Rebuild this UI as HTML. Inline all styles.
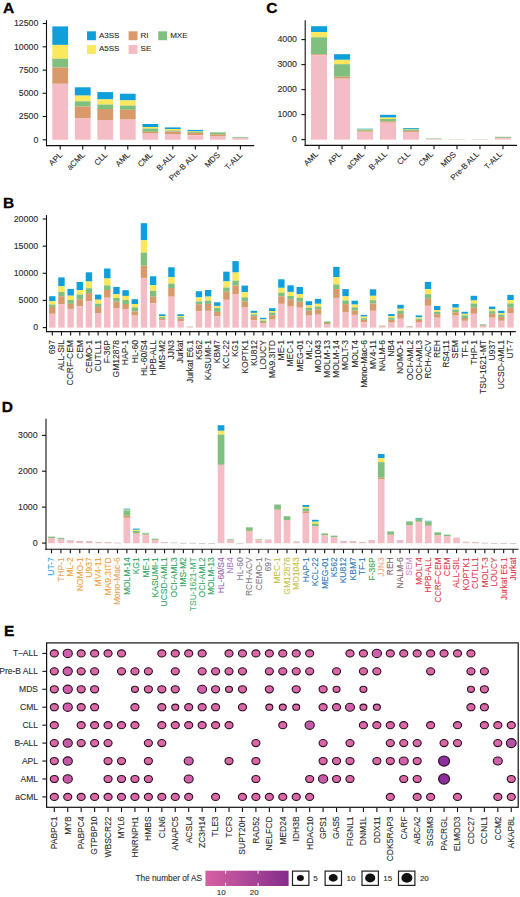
<!DOCTYPE html>
<html><head><meta charset="utf-8"><title>Figure</title>
<style>
html,body{margin:0;padding:0;background:#fff;}
body{width:520px;height:897px;overflow:hidden;}
svg{display:block;font-family:"Liberation Sans",sans-serif;}
</style></head>
<body>
<svg width="520" height="897" viewBox="0 0 520 897">
<rect width="520" height="897" fill="#fff"/>
<text x="3" y="13.1" font-size="15.5" font-weight="bold" fill="#000" stroke="#000" stroke-width="0.3">A</text>
<rect x="52.3" y="26.4" width="15.8" height="18.52" fill="#0f9fdb"/>
<rect x="52.3" y="44.9" width="15.8" height="13.82" fill="#fbe85c"/>
<rect x="52.3" y="58.7" width="15.8" height="8.82" fill="#80c07e"/>
<rect x="52.3" y="67.5" width="15.8" height="16.32" fill="#d89a6a"/>
<rect x="52.3" y="83.8" width="15.8" height="55.92" fill="#f4bcc4"/>
<line x1="60.2" y1="145.6" x2="60.2" y2="149.4" stroke="#111" stroke-width="1.1"/>
<text transform="translate(62.8,155.5) rotate(-45)" font-size="8" text-anchor="end" fill="#2a2a2a" stroke="#2a2a2a" stroke-width="0.1">APL</text>
<rect x="74.82" y="87.3" width="15.8" height="8.32" fill="#0f9fdb"/>
<rect x="74.82" y="95.6" width="15.8" height="5.72" fill="#fbe85c"/>
<rect x="74.82" y="101.3" width="15.8" height="5.22" fill="#80c07e"/>
<rect x="74.82" y="106.5" width="15.8" height="11.62" fill="#d89a6a"/>
<rect x="74.82" y="118.1" width="15.8" height="21.62" fill="#f4bcc4"/>
<line x1="82.72" y1="145.6" x2="82.72" y2="149.4" stroke="#111" stroke-width="1.1"/>
<text transform="translate(85.32,155.5) rotate(-45)" font-size="8" text-anchor="end" fill="#2a2a2a" stroke="#2a2a2a" stroke-width="0.1">aCML</text>
<rect x="97.35" y="92.1" width="15.8" height="7.32" fill="#0f9fdb"/>
<rect x="97.35" y="99.4" width="15.8" height="5.22" fill="#fbe85c"/>
<rect x="97.35" y="104.6" width="15.8" height="4.42" fill="#80c07e"/>
<rect x="97.35" y="109" width="15.8" height="11.02" fill="#d89a6a"/>
<rect x="97.35" y="120" width="15.8" height="19.72" fill="#f4bcc4"/>
<line x1="105.25" y1="145.6" x2="105.25" y2="149.4" stroke="#111" stroke-width="1.1"/>
<text transform="translate(107.85,155.5) rotate(-45)" font-size="8" text-anchor="end" fill="#2a2a2a" stroke="#2a2a2a" stroke-width="0.1">CLL</text>
<rect x="119.87" y="93.7" width="15.8" height="6.72" fill="#0f9fdb"/>
<rect x="119.87" y="100.4" width="15.8" height="5.22" fill="#fbe85c"/>
<rect x="119.87" y="105.6" width="15.8" height="4.22" fill="#80c07e"/>
<rect x="119.87" y="109.8" width="15.8" height="9.82" fill="#d89a6a"/>
<rect x="119.87" y="119.6" width="15.8" height="20.12" fill="#f4bcc4"/>
<line x1="127.77" y1="145.6" x2="127.77" y2="149.4" stroke="#111" stroke-width="1.1"/>
<text transform="translate(130.38,155.5) rotate(-45)" font-size="8" text-anchor="end" fill="#2a2a2a" stroke="#2a2a2a" stroke-width="0.1">AML</text>
<rect x="142.4" y="124" width="15.8" height="3.02" fill="#0f9fdb"/>
<rect x="142.4" y="127" width="15.8" height="1.62" fill="#fbe85c"/>
<rect x="142.4" y="128.6" width="15.8" height="3.22" fill="#80c07e"/>
<rect x="142.4" y="131.8" width="15.8" height="1.82" fill="#d89a6a"/>
<rect x="142.4" y="133.6" width="15.8" height="6.12" fill="#f4bcc4"/>
<line x1="150.3" y1="145.6" x2="150.3" y2="149.4" stroke="#111" stroke-width="1.1"/>
<text transform="translate(152.9,155.5) rotate(-45)" font-size="8" text-anchor="end" fill="#2a2a2a" stroke="#2a2a2a" stroke-width="0.1">CML</text>
<rect x="164.92" y="127.4" width="15.8" height="1.62" fill="#0f9fdb"/>
<rect x="164.92" y="129" width="15.8" height="1.52" fill="#fbe85c"/>
<rect x="164.92" y="130.5" width="15.8" height="1.02" fill="#80c07e"/>
<rect x="164.92" y="131.5" width="15.8" height="2.52" fill="#d89a6a"/>
<rect x="164.92" y="134" width="15.8" height="5.72" fill="#f4bcc4"/>
<line x1="172.82" y1="145.6" x2="172.82" y2="149.4" stroke="#111" stroke-width="1.1"/>
<text transform="translate(175.42,155.5) rotate(-45)" font-size="8" text-anchor="end" fill="#2a2a2a" stroke="#2a2a2a" stroke-width="0.1">B-ALL</text>
<rect x="187.45" y="129.9" width="15.8" height="1.12" fill="#0f9fdb"/>
<rect x="187.45" y="131" width="15.8" height="0.52" fill="#fbe85c"/>
<rect x="187.45" y="131.5" width="15.8" height="1.32" fill="#80c07e"/>
<rect x="187.45" y="132.8" width="15.8" height="2.42" fill="#d89a6a"/>
<rect x="187.45" y="135.2" width="15.8" height="4.52" fill="#f4bcc4"/>
<line x1="195.35" y1="145.6" x2="195.35" y2="149.4" stroke="#111" stroke-width="1.1"/>
<text transform="translate(197.95,155.5) rotate(-45)" font-size="8" text-anchor="end" fill="#2a2a2a" stroke="#2a2a2a" stroke-width="0.1">Pre-B ALL</text>
<rect x="209.97" y="132" width="15.8" height="0.42" fill="#0f9fdb"/>
<rect x="209.97" y="132.4" width="15.8" height="0.42" fill="#fbe85c"/>
<rect x="209.97" y="132.8" width="15.8" height="1.82" fill="#80c07e"/>
<rect x="209.97" y="134.6" width="15.8" height="1.92" fill="#d89a6a"/>
<rect x="209.97" y="136.5" width="15.8" height="3.22" fill="#f4bcc4"/>
<line x1="217.88" y1="145.6" x2="217.88" y2="149.4" stroke="#111" stroke-width="1.1"/>
<text transform="translate(220.47,155.5) rotate(-45)" font-size="8" text-anchor="end" fill="#2a2a2a" stroke="#2a2a2a" stroke-width="0.1">MDS</text>
<rect x="232.5" y="137" width="15.8" height="0.22" fill="#0f9fdb"/>
<rect x="232.5" y="137.2" width="15.8" height="0.22" fill="#fbe85c"/>
<rect x="232.5" y="137.4" width="15.8" height="0.62" fill="#80c07e"/>
<rect x="232.5" y="138" width="15.8" height="0.52" fill="#d89a6a"/>
<rect x="232.5" y="138.5" width="15.8" height="1.22" fill="#f4bcc4"/>
<line x1="240.4" y1="145.6" x2="240.4" y2="149.4" stroke="#111" stroke-width="1.1"/>
<text transform="translate(243,155.5) rotate(-45)" font-size="8" text-anchor="end" fill="#2a2a2a" stroke="#2a2a2a" stroke-width="0.1">T-ALL</text>
<line x1="46.5" y1="20.2" x2="46.5" y2="146.2" stroke="#111" stroke-width="1.1"/>
<line x1="45.95" y1="145.6" x2="254.2" y2="145.6" stroke="#111" stroke-width="1.1"/>
<line x1="42.7" y1="23.5" x2="46.5" y2="23.5" stroke="#111" stroke-width="1.1"/>
<text x="38.4" y="26.2" font-size="8.8" text-anchor="end" fill="#2a2a2a" stroke="#2a2a2a" stroke-width="0.1">12500</text>
<line x1="42.7" y1="46.8" x2="46.5" y2="46.8" stroke="#111" stroke-width="1.1"/>
<text x="38.4" y="49.5" font-size="8.8" text-anchor="end" fill="#2a2a2a" stroke="#2a2a2a" stroke-width="0.1">10000</text>
<line x1="42.7" y1="70.1" x2="46.5" y2="70.1" stroke="#111" stroke-width="1.1"/>
<text x="38.4" y="72.8" font-size="8.8" text-anchor="end" fill="#2a2a2a" stroke="#2a2a2a" stroke-width="0.1">7500</text>
<line x1="42.7" y1="93.3" x2="46.5" y2="93.3" stroke="#111" stroke-width="1.1"/>
<text x="38.4" y="96" font-size="8.8" text-anchor="end" fill="#2a2a2a" stroke="#2a2a2a" stroke-width="0.1">5000</text>
<line x1="42.7" y1="116.5" x2="46.5" y2="116.5" stroke="#111" stroke-width="1.1"/>
<text x="38.4" y="119.2" font-size="8.8" text-anchor="end" fill="#2a2a2a" stroke="#2a2a2a" stroke-width="0.1">2500</text>
<line x1="42.7" y1="139.8" x2="46.5" y2="139.8" stroke="#111" stroke-width="1.1"/>
<text x="38.4" y="142.5" font-size="8.8" text-anchor="end" fill="#2a2a2a" stroke="#2a2a2a" stroke-width="0.1">0</text>
<rect x="87" y="31.3" width="8.9" height="8.9" fill="#0f9fdb"/>
<text x="99" y="37.7" font-size="8" text-anchor="start" fill="#2a2a2a" stroke="#2a2a2a" stroke-width="0.1">A3SS</text>
<rect x="87" y="45" width="8.9" height="8.9" fill="#fbe85c"/>
<text x="99" y="51.4" font-size="8" text-anchor="start" fill="#2a2a2a" stroke="#2a2a2a" stroke-width="0.1">A5SS</text>
<rect x="128.6" y="31.3" width="8.9" height="8.9" fill="#d89a6a"/>
<text x="140.6" y="37.7" font-size="8" text-anchor="start" fill="#2a2a2a" stroke="#2a2a2a" stroke-width="0.1">RI</text>
<rect x="128.6" y="45" width="8.9" height="8.9" fill="#f4bcc4"/>
<text x="140.6" y="51.4" font-size="8" text-anchor="start" fill="#2a2a2a" stroke="#2a2a2a" stroke-width="0.1">SE</text>
<rect x="158.2" y="31.3" width="8.9" height="8.9" fill="#80c07e"/>
<text x="170.2" y="37.7" font-size="8" text-anchor="start" fill="#2a2a2a" stroke="#2a2a2a" stroke-width="0.1">MXE</text>
<text x="266.2" y="13.3" font-size="15.5" font-weight="bold" fill="#000" stroke="#000" stroke-width="0.3">C</text>
<rect x="311.05" y="26.2" width="16" height="5.92" fill="#0f9fdb"/>
<rect x="311.05" y="32.1" width="16" height="5.22" fill="#fbe85c"/>
<rect x="311.05" y="37.3" width="16" height="16.92" fill="#80c07e"/>
<rect x="311.05" y="54.2" width="16" height="1.02" fill="#d89a6a"/>
<rect x="311.05" y="55.2" width="16" height="84.42" fill="#f4bcc4"/>
<line x1="319.05" y1="145.4" x2="319.05" y2="149.2" stroke="#111" stroke-width="1.1"/>
<text transform="translate(318.65,154.9) rotate(-45)" font-size="8" text-anchor="end" fill="#2a2a2a" stroke="#2a2a2a" stroke-width="0.1">AML</text>
<rect x="334.04" y="54.2" width="16" height="5.62" fill="#0f9fdb"/>
<rect x="334.04" y="59.8" width="16" height="4.42" fill="#fbe85c"/>
<rect x="334.04" y="64.2" width="16" height="12.52" fill="#80c07e"/>
<rect x="334.04" y="76.7" width="16" height="2.02" fill="#d89a6a"/>
<rect x="334.04" y="78.7" width="16" height="60.92" fill="#f4bcc4"/>
<line x1="342.04" y1="145.4" x2="342.04" y2="149.2" stroke="#111" stroke-width="1.1"/>
<text transform="translate(341.64,154.9) rotate(-45)" font-size="8" text-anchor="end" fill="#2a2a2a" stroke="#2a2a2a" stroke-width="0.1">APL</text>
<rect x="357.03" y="128.7" width="16" height="0.52" fill="#0f9fdb"/>
<rect x="357.03" y="129.2" width="16" height="0.32" fill="#fbe85c"/>
<rect x="357.03" y="129.5" width="16" height="1.32" fill="#80c07e"/>
<rect x="357.03" y="130.8" width="16" height="0.92" fill="#d89a6a"/>
<rect x="357.03" y="131.7" width="16" height="7.92" fill="#f4bcc4"/>
<line x1="365.03" y1="145.4" x2="365.03" y2="149.2" stroke="#111" stroke-width="1.1"/>
<text transform="translate(364.63,154.9) rotate(-45)" font-size="8" text-anchor="end" fill="#2a2a2a" stroke="#2a2a2a" stroke-width="0.1">aCML</text>
<rect x="380.02" y="114.8" width="16" height="2.82" fill="#0f9fdb"/>
<rect x="380.02" y="117.6" width="16" height="1.42" fill="#fbe85c"/>
<rect x="380.02" y="119" width="16" height="2.42" fill="#80c07e"/>
<rect x="380.02" y="121.4" width="16" height="1.32" fill="#d89a6a"/>
<rect x="380.02" y="122.7" width="16" height="16.92" fill="#f4bcc4"/>
<line x1="388.02" y1="145.4" x2="388.02" y2="149.2" stroke="#111" stroke-width="1.1"/>
<text transform="translate(387.62,154.9) rotate(-45)" font-size="8" text-anchor="end" fill="#2a2a2a" stroke="#2a2a2a" stroke-width="0.1">B-ALL</text>
<rect x="403.01" y="128" width="16" height="0.92" fill="#0f9fdb"/>
<rect x="403.01" y="128.9" width="16" height="0.52" fill="#fbe85c"/>
<rect x="403.01" y="129.4" width="16" height="1.42" fill="#80c07e"/>
<rect x="403.01" y="130.8" width="16" height="1.12" fill="#d89a6a"/>
<rect x="403.01" y="131.9" width="16" height="7.72" fill="#f4bcc4"/>
<line x1="411.01" y1="145.4" x2="411.01" y2="149.2" stroke="#111" stroke-width="1.1"/>
<text transform="translate(410.61,154.9) rotate(-45)" font-size="8" text-anchor="end" fill="#2a2a2a" stroke="#2a2a2a" stroke-width="0.1">CLL</text>
<rect x="426" y="138.4" width="16" height="0.12" fill="#0f9fdb"/>
<rect x="426" y="138.5" width="16" height="0.12" fill="#fbe85c"/>
<rect x="426" y="138.6" width="16" height="0.42" fill="#80c07e"/>
<rect x="426" y="139" width="16" height="0.22" fill="#d89a6a"/>
<rect x="426" y="139.2" width="16" height="0.42" fill="#f4bcc4"/>
<line x1="434" y1="145.4" x2="434" y2="149.2" stroke="#111" stroke-width="1.1"/>
<text transform="translate(433.6,154.9) rotate(-45)" font-size="8" text-anchor="end" fill="#2a2a2a" stroke="#2a2a2a" stroke-width="0.1">CML</text>
<rect x="448.99" y="139.2" width="16" height="0.07" fill="#0f9fdb"/>
<rect x="448.99" y="139.25" width="16" height="0.07" fill="#fbe85c"/>
<rect x="448.99" y="139.3" width="16" height="0.07" fill="#80c07e"/>
<rect x="448.99" y="139.35" width="16" height="0.07" fill="#d89a6a"/>
<rect x="448.99" y="139.4" width="16" height="0.22" fill="#f4bcc4"/>
<line x1="456.99" y1="145.4" x2="456.99" y2="149.2" stroke="#111" stroke-width="1.1"/>
<text transform="translate(456.59,154.9) rotate(-45)" font-size="8" text-anchor="end" fill="#2a2a2a" stroke="#2a2a2a" stroke-width="0.1">MDS</text>
<rect x="471.98" y="139.2" width="16" height="0.07" fill="#0f9fdb"/>
<rect x="471.98" y="139.25" width="16" height="0.07" fill="#fbe85c"/>
<rect x="471.98" y="139.3" width="16" height="0.07" fill="#80c07e"/>
<rect x="471.98" y="139.35" width="16" height="0.07" fill="#d89a6a"/>
<rect x="471.98" y="139.4" width="16" height="0.22" fill="#f4bcc4"/>
<line x1="479.98" y1="145.4" x2="479.98" y2="149.2" stroke="#111" stroke-width="1.1"/>
<text transform="translate(479.58,154.9) rotate(-45)" font-size="8" text-anchor="end" fill="#2a2a2a" stroke="#2a2a2a" stroke-width="0.1">Pre-B ALL</text>
<rect x="494.97" y="136.8" width="16" height="0.12" fill="#0f9fdb"/>
<rect x="494.97" y="136.9" width="16" height="0.12" fill="#fbe85c"/>
<rect x="494.97" y="137" width="16" height="0.82" fill="#80c07e"/>
<rect x="494.97" y="137.8" width="16" height="0.42" fill="#d89a6a"/>
<rect x="494.97" y="138.2" width="16" height="1.42" fill="#f4bcc4"/>
<line x1="502.97" y1="145.4" x2="502.97" y2="149.2" stroke="#111" stroke-width="1.1"/>
<text transform="translate(502.57,154.9) rotate(-45)" font-size="8" text-anchor="end" fill="#2a2a2a" stroke="#2a2a2a" stroke-width="0.1">T-ALL</text>
<line x1="305.2" y1="20.2" x2="305.2" y2="146" stroke="#111" stroke-width="1.1"/>
<line x1="304.65" y1="145.4" x2="517" y2="145.4" stroke="#111" stroke-width="1.1"/>
<line x1="301.4" y1="39.6" x2="305.2" y2="39.6" stroke="#111" stroke-width="1.1"/>
<text x="297" y="42.3" font-size="8.8" text-anchor="end" fill="#2a2a2a" stroke="#2a2a2a" stroke-width="0.1">4000</text>
<line x1="301.4" y1="64.6" x2="305.2" y2="64.6" stroke="#111" stroke-width="1.1"/>
<text x="297" y="67.3" font-size="8.8" text-anchor="end" fill="#2a2a2a" stroke="#2a2a2a" stroke-width="0.1">3000</text>
<line x1="301.4" y1="89.6" x2="305.2" y2="89.6" stroke="#111" stroke-width="1.1"/>
<text x="297" y="92.3" font-size="8.8" text-anchor="end" fill="#2a2a2a" stroke="#2a2a2a" stroke-width="0.1">2000</text>
<line x1="301.4" y1="114.6" x2="305.2" y2="114.6" stroke="#111" stroke-width="1.1"/>
<text x="297" y="117.3" font-size="8.8" text-anchor="end" fill="#2a2a2a" stroke="#2a2a2a" stroke-width="0.1">1000</text>
<line x1="301.4" y1="139.6" x2="305.2" y2="139.6" stroke="#111" stroke-width="1.1"/>
<text x="297" y="142.3" font-size="8.8" text-anchor="end" fill="#2a2a2a" stroke="#2a2a2a" stroke-width="0.1">0</text>
<text x="3" y="208.3" font-size="15.5" font-weight="bold" fill="#000" stroke="#000" stroke-width="0.3">B</text>
<rect x="49.1" y="296.2" width="6.4" height="5.02" fill="#0f9fdb"/>
<rect x="49.1" y="301.2" width="6.4" height="3.42" fill="#fbe85c"/>
<rect x="49.1" y="304.6" width="6.4" height="2.32" fill="#80c07e"/>
<rect x="49.1" y="306.9" width="6.4" height="6.92" fill="#d89a6a"/>
<rect x="49.1" y="313.8" width="6.4" height="13.82" fill="#f4bcc4"/>
<line x1="52.3" y1="331.6" x2="52.3" y2="335.6" stroke="#111" stroke-width="1.1"/>
<text transform="translate(55.15,340.1) rotate(-90)" font-size="8.5" text-anchor="end" fill="#2a2a2a" stroke="#2a2a2a" stroke-width="0.1">697</text>
<rect x="58.26" y="277.4" width="6.4" height="8.82" fill="#0f9fdb"/>
<rect x="58.26" y="286.2" width="6.4" height="5.82" fill="#fbe85c"/>
<rect x="58.26" y="292" width="6.4" height="4.22" fill="#80c07e"/>
<rect x="58.26" y="296.2" width="6.4" height="8.12" fill="#d89a6a"/>
<rect x="58.26" y="304.3" width="6.4" height="23.32" fill="#f4bcc4"/>
<line x1="61.46" y1="331.6" x2="61.46" y2="335.6" stroke="#111" stroke-width="1.1"/>
<text transform="translate(64.31,340.1) rotate(-90)" font-size="8.5" text-anchor="end" fill="#2a2a2a" stroke="#2a2a2a" stroke-width="0.1">ALL-SIL</text>
<rect x="67.43" y="288.9" width="6.4" height="6.82" fill="#0f9fdb"/>
<rect x="67.43" y="295.7" width="6.4" height="4.32" fill="#fbe85c"/>
<rect x="67.43" y="300" width="6.4" height="3.82" fill="#80c07e"/>
<rect x="67.43" y="303.8" width="6.4" height="5.12" fill="#d89a6a"/>
<rect x="67.43" y="308.9" width="6.4" height="18.72" fill="#f4bcc4"/>
<line x1="70.63" y1="331.6" x2="70.63" y2="335.6" stroke="#111" stroke-width="1.1"/>
<text transform="translate(73.48,340.1) rotate(-90)" font-size="8.5" text-anchor="end" fill="#2a2a2a" stroke="#2a2a2a" stroke-width="0.1">CCRF-CEM</text>
<rect x="76.59" y="282" width="6.4" height="8.02" fill="#0f9fdb"/>
<rect x="76.59" y="290" width="6.4" height="4.62" fill="#fbe85c"/>
<rect x="76.59" y="294.6" width="6.4" height="4.62" fill="#80c07e"/>
<rect x="76.59" y="299.2" width="6.4" height="7.02" fill="#d89a6a"/>
<rect x="76.59" y="306.2" width="6.4" height="21.42" fill="#f4bcc4"/>
<line x1="79.79" y1="331.6" x2="79.79" y2="335.6" stroke="#111" stroke-width="1.1"/>
<text transform="translate(82.64,340.1) rotate(-90)" font-size="8.5" text-anchor="end" fill="#2a2a2a" stroke="#2a2a2a" stroke-width="0.1">CEM</text>
<rect x="85.76" y="272.3" width="6.4" height="9.22" fill="#0f9fdb"/>
<rect x="85.76" y="281.5" width="6.4" height="6.72" fill="#fbe85c"/>
<rect x="85.76" y="288.2" width="6.4" height="4.92" fill="#80c07e"/>
<rect x="85.76" y="293.1" width="6.4" height="8.12" fill="#d89a6a"/>
<rect x="85.76" y="301.2" width="6.4" height="26.42" fill="#f4bcc4"/>
<line x1="88.96" y1="331.6" x2="88.96" y2="335.6" stroke="#111" stroke-width="1.1"/>
<text transform="translate(91.81,340.1) rotate(-90)" font-size="8.5" text-anchor="end" fill="#2a2a2a" stroke="#2a2a2a" stroke-width="0.1">CEMO-1</text>
<rect x="94.92" y="294.6" width="6.4" height="5.12" fill="#0f9fdb"/>
<rect x="94.92" y="299.7" width="6.4" height="4.12" fill="#fbe85c"/>
<rect x="94.92" y="303.8" width="6.4" height="3.12" fill="#80c07e"/>
<rect x="94.92" y="306.9" width="6.4" height="6.22" fill="#d89a6a"/>
<rect x="94.92" y="313.1" width="6.4" height="14.52" fill="#f4bcc4"/>
<line x1="98.12" y1="331.6" x2="98.12" y2="335.6" stroke="#111" stroke-width="1.1"/>
<text transform="translate(100.97,340.1) rotate(-90)" font-size="8.5" text-anchor="end" fill="#2a2a2a" stroke="#2a2a2a" stroke-width="0.1">CUTLL1</text>
<rect x="104.08" y="268.5" width="6.4" height="10.02" fill="#0f9fdb"/>
<rect x="104.08" y="278.5" width="6.4" height="6.92" fill="#fbe85c"/>
<rect x="104.08" y="285.4" width="6.4" height="4.62" fill="#80c07e"/>
<rect x="104.08" y="290" width="6.4" height="7.72" fill="#d89a6a"/>
<rect x="104.08" y="297.7" width="6.4" height="29.92" fill="#f4bcc4"/>
<line x1="107.28" y1="331.6" x2="107.28" y2="335.6" stroke="#111" stroke-width="1.1"/>
<text transform="translate(110.13,340.1) rotate(-90)" font-size="8.5" text-anchor="end" fill="#2a2a2a" stroke="#2a2a2a" stroke-width="0.1">F-36P</text>
<rect x="113.25" y="286.9" width="6.4" height="7.32" fill="#0f9fdb"/>
<rect x="113.25" y="294.2" width="6.4" height="3.82" fill="#fbe85c"/>
<rect x="113.25" y="298" width="6.4" height="3.62" fill="#80c07e"/>
<rect x="113.25" y="301.6" width="6.4" height="6.92" fill="#d89a6a"/>
<rect x="113.25" y="308.5" width="6.4" height="19.12" fill="#f4bcc4"/>
<line x1="116.45" y1="331.6" x2="116.45" y2="335.6" stroke="#111" stroke-width="1.1"/>
<text transform="translate(119.3,340.1) rotate(-90)" font-size="8.5" text-anchor="end" fill="#2a2a2a" stroke="#2a2a2a" stroke-width="0.1">GM12878</text>
<rect x="122.41" y="290.2" width="6.4" height="5.72" fill="#0f9fdb"/>
<rect x="122.41" y="295.9" width="6.4" height="4.12" fill="#fbe85c"/>
<rect x="122.41" y="300" width="6.4" height="4.02" fill="#80c07e"/>
<rect x="122.41" y="304" width="6.4" height="5.02" fill="#d89a6a"/>
<rect x="122.41" y="309" width="6.4" height="18.62" fill="#f4bcc4"/>
<line x1="125.61" y1="331.6" x2="125.61" y2="335.6" stroke="#111" stroke-width="1.1"/>
<text transform="translate(128.46,340.1) rotate(-90)" font-size="8.5" text-anchor="end" fill="#2a2a2a" stroke="#2a2a2a" stroke-width="0.1">HAP-1</text>
<rect x="131.58" y="299.2" width="6.4" height="4.82" fill="#0f9fdb"/>
<rect x="131.58" y="304" width="6.4" height="3.32" fill="#fbe85c"/>
<rect x="131.58" y="307.3" width="6.4" height="4.12" fill="#80c07e"/>
<rect x="131.58" y="311.4" width="6.4" height="4.12" fill="#d89a6a"/>
<rect x="131.58" y="315.5" width="6.4" height="12.12" fill="#f4bcc4"/>
<line x1="134.78" y1="331.6" x2="134.78" y2="335.6" stroke="#111" stroke-width="1.1"/>
<text transform="translate(137.63,340.1) rotate(-90)" font-size="8.5" text-anchor="end" fill="#2a2a2a" stroke="#2a2a2a" stroke-width="0.1">HL-60</text>
<rect x="140.74" y="223.2" width="6.4" height="17.12" fill="#0f9fdb"/>
<rect x="140.74" y="240.3" width="6.4" height="12.32" fill="#fbe85c"/>
<rect x="140.74" y="252.6" width="6.4" height="13.12" fill="#80c07e"/>
<rect x="140.74" y="265.7" width="6.4" height="12.22" fill="#d89a6a"/>
<rect x="140.74" y="277.9" width="6.4" height="49.72" fill="#f4bcc4"/>
<line x1="143.94" y1="331.6" x2="143.94" y2="335.6" stroke="#111" stroke-width="1.1"/>
<text transform="translate(146.79,340.1) rotate(-90)" font-size="8.5" text-anchor="end" fill="#2a2a2a" stroke="#2a2a2a" stroke-width="0.1">HL-60/S4</text>
<rect x="149.9" y="276.3" width="6.4" height="9.02" fill="#0f9fdb"/>
<rect x="149.9" y="285.3" width="6.4" height="5.72" fill="#fbe85c"/>
<rect x="149.9" y="291" width="6.4" height="5.72" fill="#80c07e"/>
<rect x="149.9" y="296.7" width="6.4" height="6.52" fill="#d89a6a"/>
<rect x="149.9" y="303.2" width="6.4" height="24.42" fill="#f4bcc4"/>
<line x1="153.1" y1="331.6" x2="153.1" y2="335.6" stroke="#111" stroke-width="1.1"/>
<text transform="translate(155.95,340.1) rotate(-90)" font-size="8.5" text-anchor="end" fill="#2a2a2a" stroke="#2a2a2a" stroke-width="0.1">HPB-ALL</text>
<rect x="159.07" y="314.3" width="6.4" height="1.72" fill="#0f9fdb"/>
<rect x="159.07" y="316" width="6.4" height="1.12" fill="#fbe85c"/>
<rect x="159.07" y="317.1" width="6.4" height="1.72" fill="#80c07e"/>
<rect x="159.07" y="318.8" width="6.4" height="1.62" fill="#d89a6a"/>
<rect x="159.07" y="320.4" width="6.4" height="7.22" fill="#f4bcc4"/>
<line x1="162.27" y1="331.6" x2="162.27" y2="335.6" stroke="#111" stroke-width="1.1"/>
<text transform="translate(165.12,340.1) rotate(-90)" font-size="8.5" text-anchor="end" fill="#2a2a2a" stroke="#2a2a2a" stroke-width="0.1">IMS-M2</text>
<rect x="168.23" y="267.3" width="6.4" height="9.82" fill="#0f9fdb"/>
<rect x="168.23" y="277.1" width="6.4" height="6.52" fill="#fbe85c"/>
<rect x="168.23" y="283.6" width="6.4" height="4.42" fill="#80c07e"/>
<rect x="168.23" y="288" width="6.4" height="8.72" fill="#d89a6a"/>
<rect x="168.23" y="296.7" width="6.4" height="30.92" fill="#f4bcc4"/>
<line x1="171.43" y1="331.6" x2="171.43" y2="335.6" stroke="#111" stroke-width="1.1"/>
<text transform="translate(174.28,340.1) rotate(-90)" font-size="8.5" text-anchor="end" fill="#2a2a2a" stroke="#2a2a2a" stroke-width="0.1">JJN3</text>
<rect x="177.4" y="314.3" width="6.4" height="1.72" fill="#0f9fdb"/>
<rect x="177.4" y="316" width="6.4" height="1.12" fill="#fbe85c"/>
<rect x="177.4" y="317.1" width="6.4" height="1.72" fill="#80c07e"/>
<rect x="177.4" y="318.8" width="6.4" height="2.42" fill="#d89a6a"/>
<rect x="177.4" y="321.2" width="6.4" height="6.42" fill="#f4bcc4"/>
<line x1="180.6" y1="331.6" x2="180.6" y2="335.6" stroke="#111" stroke-width="1.1"/>
<text transform="translate(183.45,340.1) rotate(-90)" font-size="8.5" text-anchor="end" fill="#2a2a2a" stroke="#2a2a2a" stroke-width="0.1">Jurkat</text>
<rect x="186.56" y="326.6" width="6.4" height="0.12" fill="#0f9fdb"/>
<rect x="186.56" y="326.7" width="6.4" height="0.12" fill="#fbe85c"/>
<rect x="186.56" y="326.8" width="6.4" height="0.12" fill="#80c07e"/>
<rect x="186.56" y="326.9" width="6.4" height="0.22" fill="#d89a6a"/>
<rect x="186.56" y="327.1" width="6.4" height="0.52" fill="#f4bcc4"/>
<line x1="189.76" y1="331.6" x2="189.76" y2="335.6" stroke="#111" stroke-width="1.1"/>
<text transform="translate(192.61,340.1) rotate(-90)" font-size="8.5" text-anchor="end" fill="#2a2a2a" stroke="#2a2a2a" stroke-width="0.1">Jurkat E6.1</text>
<rect x="195.72" y="291.2" width="6.4" height="6.22" fill="#0f9fdb"/>
<rect x="195.72" y="297.4" width="6.4" height="4.12" fill="#fbe85c"/>
<rect x="195.72" y="301.5" width="6.4" height="2.72" fill="#80c07e"/>
<rect x="195.72" y="304.2" width="6.4" height="7.12" fill="#d89a6a"/>
<rect x="195.72" y="311.3" width="6.4" height="16.32" fill="#f4bcc4"/>
<line x1="198.92" y1="331.6" x2="198.92" y2="335.6" stroke="#111" stroke-width="1.1"/>
<text transform="translate(201.77,340.1) rotate(-90)" font-size="8.5" text-anchor="end" fill="#2a2a2a" stroke="#2a2a2a" stroke-width="0.1">K562</text>
<rect x="204.89" y="290" width="6.4" height="6.62" fill="#0f9fdb"/>
<rect x="204.89" y="296.6" width="6.4" height="4.12" fill="#fbe85c"/>
<rect x="204.89" y="300.7" width="6.4" height="3.22" fill="#80c07e"/>
<rect x="204.89" y="303.9" width="6.4" height="6.92" fill="#d89a6a"/>
<rect x="204.89" y="310.8" width="6.4" height="16.82" fill="#f4bcc4"/>
<line x1="208.09" y1="331.6" x2="208.09" y2="335.6" stroke="#111" stroke-width="1.1"/>
<text transform="translate(210.94,340.1) rotate(-90)" font-size="8.5" text-anchor="end" fill="#2a2a2a" stroke="#2a2a2a" stroke-width="0.1">KASUMI-1</text>
<rect x="214.05" y="302.3" width="6.4" height="3.62" fill="#0f9fdb"/>
<rect x="214.05" y="305.9" width="6.4" height="2.12" fill="#fbe85c"/>
<rect x="214.05" y="308" width="6.4" height="3.82" fill="#80c07e"/>
<rect x="214.05" y="311.8" width="6.4" height="4.42" fill="#d89a6a"/>
<rect x="214.05" y="316.2" width="6.4" height="11.42" fill="#f4bcc4"/>
<line x1="217.25" y1="331.6" x2="217.25" y2="335.6" stroke="#111" stroke-width="1.1"/>
<text transform="translate(220.1,340.1) rotate(-90)" font-size="8.5" text-anchor="end" fill="#2a2a2a" stroke="#2a2a2a" stroke-width="0.1">KBM7</text>
<rect x="223.22" y="271.7" width="6.4" height="9.72" fill="#0f9fdb"/>
<rect x="223.22" y="281.4" width="6.4" height="6.22" fill="#fbe85c"/>
<rect x="223.22" y="287.6" width="6.4" height="4.12" fill="#80c07e"/>
<rect x="223.22" y="291.7" width="6.4" height="8.12" fill="#d89a6a"/>
<rect x="223.22" y="299.8" width="6.4" height="27.82" fill="#f4bcc4"/>
<line x1="226.42" y1="331.6" x2="226.42" y2="335.6" stroke="#111" stroke-width="1.1"/>
<text transform="translate(229.27,340.1) rotate(-90)" font-size="8.5" text-anchor="end" fill="#2a2a2a" stroke="#2a2a2a" stroke-width="0.1">KCL-22</text>
<rect x="232.38" y="261.1" width="6.4" height="11.42" fill="#0f9fdb"/>
<rect x="232.38" y="272.5" width="6.4" height="8.22" fill="#fbe85c"/>
<rect x="232.38" y="280.7" width="6.4" height="4.92" fill="#80c07e"/>
<rect x="232.38" y="285.6" width="6.4" height="8.82" fill="#d89a6a"/>
<rect x="232.38" y="294.4" width="6.4" height="33.22" fill="#f4bcc4"/>
<line x1="235.58" y1="331.6" x2="235.58" y2="335.6" stroke="#111" stroke-width="1.1"/>
<text transform="translate(238.43,340.1) rotate(-90)" font-size="8.5" text-anchor="end" fill="#2a2a2a" stroke="#2a2a2a" stroke-width="0.1">KG1</text>
<rect x="241.54" y="285.6" width="6.4" height="6.62" fill="#0f9fdb"/>
<rect x="241.54" y="292.2" width="6.4" height="5.22" fill="#fbe85c"/>
<rect x="241.54" y="297.4" width="6.4" height="4.12" fill="#80c07e"/>
<rect x="241.54" y="301.5" width="6.4" height="6.02" fill="#d89a6a"/>
<rect x="241.54" y="307.5" width="6.4" height="20.12" fill="#f4bcc4"/>
<line x1="244.74" y1="331.6" x2="244.74" y2="335.6" stroke="#111" stroke-width="1.1"/>
<text transform="translate(247.59,340.1) rotate(-90)" font-size="8.5" text-anchor="end" fill="#2a2a2a" stroke="#2a2a2a" stroke-width="0.1">KOPTK1</text>
<rect x="250.71" y="310.8" width="6.4" height="2.12" fill="#0f9fdb"/>
<rect x="250.71" y="312.9" width="6.4" height="1.62" fill="#fbe85c"/>
<rect x="250.71" y="314.5" width="6.4" height="1.72" fill="#80c07e"/>
<rect x="250.71" y="316.2" width="6.4" height="4.12" fill="#d89a6a"/>
<rect x="250.71" y="320.3" width="6.4" height="7.32" fill="#f4bcc4"/>
<line x1="253.91" y1="331.6" x2="253.91" y2="335.6" stroke="#111" stroke-width="1.1"/>
<text transform="translate(256.76,340.1) rotate(-90)" font-size="8.5" text-anchor="end" fill="#2a2a2a" stroke="#2a2a2a" stroke-width="0.1">KU812</text>
<rect x="259.87" y="317.8" width="6.4" height="1.62" fill="#0f9fdb"/>
<rect x="259.87" y="319.4" width="6.4" height="1.22" fill="#fbe85c"/>
<rect x="259.87" y="320.6" width="6.4" height="1.32" fill="#80c07e"/>
<rect x="259.87" y="321.9" width="6.4" height="1.62" fill="#d89a6a"/>
<rect x="259.87" y="323.5" width="6.4" height="4.12" fill="#f4bcc4"/>
<line x1="263.07" y1="331.6" x2="263.07" y2="335.6" stroke="#111" stroke-width="1.1"/>
<text transform="translate(265.92,340.1) rotate(-90)" font-size="8.5" text-anchor="end" fill="#2a2a2a" stroke="#2a2a2a" stroke-width="0.1">LOUCY</text>
<rect x="269.04" y="308.2" width="6.4" height="2.82" fill="#0f9fdb"/>
<rect x="269.04" y="311" width="6.4" height="1.62" fill="#fbe85c"/>
<rect x="269.04" y="312.6" width="6.4" height="2.62" fill="#80c07e"/>
<rect x="269.04" y="315.2" width="6.4" height="4.42" fill="#d89a6a"/>
<rect x="269.04" y="319.6" width="6.4" height="8.02" fill="#f4bcc4"/>
<line x1="272.24" y1="331.6" x2="272.24" y2="335.6" stroke="#111" stroke-width="1.1"/>
<text transform="translate(275.09,340.1) rotate(-90)" font-size="8.5" text-anchor="end" fill="#2a2a2a" stroke="#2a2a2a" stroke-width="0.1">MA9.3ITD</text>
<rect x="278.2" y="279.3" width="6.4" height="8.52" fill="#0f9fdb"/>
<rect x="278.2" y="287.8" width="6.4" height="4.92" fill="#fbe85c"/>
<rect x="278.2" y="292.7" width="6.4" height="3.62" fill="#80c07e"/>
<rect x="278.2" y="296.3" width="6.4" height="7.52" fill="#d89a6a"/>
<rect x="278.2" y="303.8" width="6.4" height="23.82" fill="#f4bcc4"/>
<line x1="281.4" y1="331.6" x2="281.4" y2="335.6" stroke="#111" stroke-width="1.1"/>
<text transform="translate(284.25,340.1) rotate(-90)" font-size="8.5" text-anchor="end" fill="#2a2a2a" stroke="#2a2a2a" stroke-width="0.1">ME-1</text>
<rect x="287.36" y="285.3" width="6.4" height="6.62" fill="#0f9fdb"/>
<rect x="287.36" y="291.9" width="6.4" height="4.12" fill="#fbe85c"/>
<rect x="287.36" y="296" width="6.4" height="3.22" fill="#80c07e"/>
<rect x="287.36" y="299.2" width="6.4" height="7.42" fill="#d89a6a"/>
<rect x="287.36" y="306.6" width="6.4" height="21.02" fill="#f4bcc4"/>
<line x1="290.56" y1="331.6" x2="290.56" y2="335.6" stroke="#111" stroke-width="1.1"/>
<text transform="translate(293.41,340.1) rotate(-90)" font-size="8.5" text-anchor="end" fill="#2a2a2a" stroke="#2a2a2a" stroke-width="0.1">MEC-1</text>
<rect x="296.53" y="287" width="6.4" height="7.02" fill="#0f9fdb"/>
<rect x="296.53" y="294" width="6.4" height="3.92" fill="#fbe85c"/>
<rect x="296.53" y="297.9" width="6.4" height="3.82" fill="#80c07e"/>
<rect x="296.53" y="301.7" width="6.4" height="6.02" fill="#d89a6a"/>
<rect x="296.53" y="307.7" width="6.4" height="19.92" fill="#f4bcc4"/>
<line x1="299.73" y1="331.6" x2="299.73" y2="335.6" stroke="#111" stroke-width="1.1"/>
<text transform="translate(302.58,340.1) rotate(-90)" font-size="8.5" text-anchor="end" fill="#2a2a2a" stroke="#2a2a2a" stroke-width="0.1">MEG-01</text>
<rect x="305.69" y="301.2" width="6.4" height="4.22" fill="#0f9fdb"/>
<rect x="305.69" y="305.4" width="6.4" height="2.32" fill="#fbe85c"/>
<rect x="305.69" y="307.7" width="6.4" height="3.02" fill="#80c07e"/>
<rect x="305.69" y="310.7" width="6.4" height="4.92" fill="#d89a6a"/>
<rect x="305.69" y="315.6" width="6.4" height="12.02" fill="#f4bcc4"/>
<line x1="308.89" y1="331.6" x2="308.89" y2="335.6" stroke="#111" stroke-width="1.1"/>
<text transform="translate(311.74,340.1) rotate(-90)" font-size="8.5" text-anchor="end" fill="#2a2a2a" stroke="#2a2a2a" stroke-width="0.1">ML-2</text>
<rect x="314.86" y="298.9" width="6.4" height="4.92" fill="#0f9fdb"/>
<rect x="314.86" y="303.8" width="6.4" height="2.82" fill="#fbe85c"/>
<rect x="314.86" y="306.6" width="6.4" height="2.72" fill="#80c07e"/>
<rect x="314.86" y="309.3" width="6.4" height="5.42" fill="#d89a6a"/>
<rect x="314.86" y="314.7" width="6.4" height="12.92" fill="#f4bcc4"/>
<line x1="318.06" y1="331.6" x2="318.06" y2="335.6" stroke="#111" stroke-width="1.1"/>
<text transform="translate(320.91,340.1) rotate(-90)" font-size="8.5" text-anchor="end" fill="#2a2a2a" stroke="#2a2a2a" stroke-width="0.1">MO1043</text>
<rect x="324.02" y="321.3" width="6.4" height="0.22" fill="#0f9fdb"/>
<rect x="324.02" y="321.5" width="6.4" height="0.22" fill="#fbe85c"/>
<rect x="324.02" y="321.7" width="6.4" height="1.32" fill="#80c07e"/>
<rect x="324.02" y="323" width="6.4" height="1.52" fill="#d89a6a"/>
<rect x="324.02" y="324.5" width="6.4" height="3.12" fill="#f4bcc4"/>
<line x1="327.22" y1="331.6" x2="327.22" y2="335.6" stroke="#111" stroke-width="1.1"/>
<text transform="translate(330.07,340.1) rotate(-90)" font-size="8.5" text-anchor="end" fill="#2a2a2a" stroke="#2a2a2a" stroke-width="0.1">MOLM-13</text>
<rect x="333.18" y="266.9" width="6.4" height="10.32" fill="#0f9fdb"/>
<rect x="333.18" y="277.2" width="6.4" height="7.32" fill="#fbe85c"/>
<rect x="333.18" y="284.5" width="6.4" height="4.62" fill="#80c07e"/>
<rect x="333.18" y="289.1" width="6.4" height="8.82" fill="#d89a6a"/>
<rect x="333.18" y="297.9" width="6.4" height="29.72" fill="#f4bcc4"/>
<line x1="336.38" y1="331.6" x2="336.38" y2="335.6" stroke="#111" stroke-width="1.1"/>
<text transform="translate(339.23,340.1) rotate(-90)" font-size="8.5" text-anchor="end" fill="#2a2a2a" stroke="#2a2a2a" stroke-width="0.1">MOLM-14</text>
<rect x="342.35" y="289.1" width="6.4" height="7.22" fill="#0f9fdb"/>
<rect x="342.35" y="296.3" width="6.4" height="4.22" fill="#fbe85c"/>
<rect x="342.35" y="300.5" width="6.4" height="3.62" fill="#80c07e"/>
<rect x="342.35" y="304.1" width="6.4" height="7.92" fill="#d89a6a"/>
<rect x="342.35" y="312" width="6.4" height="15.62" fill="#f4bcc4"/>
<line x1="345.55" y1="331.6" x2="345.55" y2="335.6" stroke="#111" stroke-width="1.1"/>
<text transform="translate(348.4,340.1) rotate(-90)" font-size="8.5" text-anchor="end" fill="#2a2a2a" stroke="#2a2a2a" stroke-width="0.1">MOLT-3</text>
<rect x="351.51" y="300.7" width="6.4" height="3.92" fill="#0f9fdb"/>
<rect x="351.51" y="304.6" width="6.4" height="2.72" fill="#fbe85c"/>
<rect x="351.51" y="307.3" width="6.4" height="3.22" fill="#80c07e"/>
<rect x="351.51" y="310.5" width="6.4" height="4.42" fill="#d89a6a"/>
<rect x="351.51" y="314.9" width="6.4" height="12.72" fill="#f4bcc4"/>
<line x1="354.71" y1="331.6" x2="354.71" y2="335.6" stroke="#111" stroke-width="1.1"/>
<text transform="translate(357.56,340.1) rotate(-90)" font-size="8.5" text-anchor="end" fill="#2a2a2a" stroke="#2a2a2a" stroke-width="0.1">MOLT4</text>
<rect x="360.68" y="314.9" width="6.4" height="1.72" fill="#0f9fdb"/>
<rect x="360.68" y="316.6" width="6.4" height="1.62" fill="#fbe85c"/>
<rect x="360.68" y="318.2" width="6.4" height="1.62" fill="#80c07e"/>
<rect x="360.68" y="319.8" width="6.4" height="2.52" fill="#d89a6a"/>
<rect x="360.68" y="322.3" width="6.4" height="5.32" fill="#f4bcc4"/>
<line x1="363.88" y1="331.6" x2="363.88" y2="335.6" stroke="#111" stroke-width="1.1"/>
<text transform="translate(366.73,340.1) rotate(-90)" font-size="8.5" text-anchor="end" fill="#2a2a2a" stroke="#2a2a2a" stroke-width="0.1">Mono-Mac-6</text>
<rect x="369.84" y="289.3" width="6.4" height="6.52" fill="#0f9fdb"/>
<rect x="369.84" y="295.8" width="6.4" height="4.42" fill="#fbe85c"/>
<rect x="369.84" y="300.2" width="6.4" height="3.32" fill="#80c07e"/>
<rect x="369.84" y="303.5" width="6.4" height="7.32" fill="#d89a6a"/>
<rect x="369.84" y="310.8" width="6.4" height="16.82" fill="#f4bcc4"/>
<line x1="373.04" y1="331.6" x2="373.04" y2="335.6" stroke="#111" stroke-width="1.1"/>
<text transform="translate(375.89,340.1) rotate(-90)" font-size="8.5" text-anchor="end" fill="#2a2a2a" stroke="#2a2a2a" stroke-width="0.1">MV4-11</text>
<rect x="379" y="325.6" width="6.4" height="0.12" fill="#0f9fdb"/>
<rect x="379" y="325.7" width="6.4" height="0.12" fill="#fbe85c"/>
<rect x="379" y="325.8" width="6.4" height="0.42" fill="#80c07e"/>
<rect x="379" y="326.2" width="6.4" height="0.52" fill="#d89a6a"/>
<rect x="379" y="326.7" width="6.4" height="0.92" fill="#f4bcc4"/>
<line x1="382.2" y1="331.6" x2="382.2" y2="335.6" stroke="#111" stroke-width="1.1"/>
<text transform="translate(385.05,340.1) rotate(-90)" font-size="8.5" text-anchor="end" fill="#2a2a2a" stroke="#2a2a2a" stroke-width="0.1">NALM-6</text>
<rect x="388.17" y="314.1" width="6.4" height="2.02" fill="#0f9fdb"/>
<rect x="388.17" y="316.1" width="6.4" height="1.62" fill="#fbe85c"/>
<rect x="388.17" y="317.7" width="6.4" height="2.12" fill="#80c07e"/>
<rect x="388.17" y="319.8" width="6.4" height="2.82" fill="#d89a6a"/>
<rect x="388.17" y="322.6" width="6.4" height="5.02" fill="#f4bcc4"/>
<line x1="391.37" y1="331.6" x2="391.37" y2="335.6" stroke="#111" stroke-width="1.1"/>
<text transform="translate(394.22,340.1) rotate(-90)" font-size="8.5" text-anchor="end" fill="#2a2a2a" stroke="#2a2a2a" stroke-width="0.1">NB4</text>
<rect x="397.33" y="304.8" width="6.4" height="3.92" fill="#0f9fdb"/>
<rect x="397.33" y="308.7" width="6.4" height="2.12" fill="#fbe85c"/>
<rect x="397.33" y="310.8" width="6.4" height="3.32" fill="#80c07e"/>
<rect x="397.33" y="314.1" width="6.4" height="4.62" fill="#d89a6a"/>
<rect x="397.33" y="318.7" width="6.4" height="8.92" fill="#f4bcc4"/>
<line x1="400.53" y1="331.6" x2="400.53" y2="335.6" stroke="#111" stroke-width="1.1"/>
<text transform="translate(403.38,340.1) rotate(-90)" font-size="8.5" text-anchor="end" fill="#2a2a2a" stroke="#2a2a2a" stroke-width="0.1">NOMO-1</text>
<rect x="406.5" y="326" width="6.4" height="0.12" fill="#0f9fdb"/>
<rect x="406.5" y="326.1" width="6.4" height="0.12" fill="#fbe85c"/>
<rect x="406.5" y="326.2" width="6.4" height="0.32" fill="#80c07e"/>
<rect x="406.5" y="326.5" width="6.4" height="0.32" fill="#d89a6a"/>
<rect x="406.5" y="326.8" width="6.4" height="0.82" fill="#f4bcc4"/>
<line x1="409.7" y1="331.6" x2="409.7" y2="335.6" stroke="#111" stroke-width="1.1"/>
<text transform="translate(412.55,340.1) rotate(-90)" font-size="8.5" text-anchor="end" fill="#2a2a2a" stroke="#2a2a2a" stroke-width="0.1">OCI-AML2</text>
<rect x="415.66" y="315.4" width="6.4" height="2.02" fill="#0f9fdb"/>
<rect x="415.66" y="317.4" width="6.4" height="1.32" fill="#fbe85c"/>
<rect x="415.66" y="318.7" width="6.4" height="1.12" fill="#80c07e"/>
<rect x="415.66" y="319.8" width="6.4" height="2.22" fill="#d89a6a"/>
<rect x="415.66" y="322" width="6.4" height="5.62" fill="#f4bcc4"/>
<line x1="418.86" y1="331.6" x2="418.86" y2="335.6" stroke="#111" stroke-width="1.1"/>
<text transform="translate(421.71,340.1) rotate(-90)" font-size="8.5" text-anchor="end" fill="#2a2a2a" stroke="#2a2a2a" stroke-width="0.1">OCI-AML3</text>
<rect x="424.82" y="281.9" width="6.4" height="7.22" fill="#0f9fdb"/>
<rect x="424.82" y="289.1" width="6.4" height="5.12" fill="#fbe85c"/>
<rect x="424.82" y="294.2" width="6.4" height="4.62" fill="#80c07e"/>
<rect x="424.82" y="298.8" width="6.4" height="7.02" fill="#d89a6a"/>
<rect x="424.82" y="305.8" width="6.4" height="21.82" fill="#f4bcc4"/>
<line x1="428.02" y1="331.6" x2="428.02" y2="335.6" stroke="#111" stroke-width="1.1"/>
<text transform="translate(430.87,340.1) rotate(-90)" font-size="8.5" text-anchor="end" fill="#2a2a2a" stroke="#2a2a2a" stroke-width="0.1">RCH-ACV</text>
<rect x="433.99" y="306" width="6.4" height="4.22" fill="#0f9fdb"/>
<rect x="433.99" y="310.2" width="6.4" height="1.72" fill="#fbe85c"/>
<rect x="433.99" y="311.9" width="6.4" height="2.32" fill="#80c07e"/>
<rect x="433.99" y="314.2" width="6.4" height="3.52" fill="#d89a6a"/>
<rect x="433.99" y="317.7" width="6.4" height="9.92" fill="#f4bcc4"/>
<line x1="437.19" y1="331.6" x2="437.19" y2="335.6" stroke="#111" stroke-width="1.1"/>
<text transform="translate(440.04,340.1) rotate(-90)" font-size="8.5" text-anchor="end" fill="#2a2a2a" stroke="#2a2a2a" stroke-width="0.1">REH</text>
<line x1="446.35" y1="331.6" x2="446.35" y2="335.6" stroke="#111" stroke-width="1.1"/>
<text transform="translate(449.2,340.1) rotate(-90)" font-size="8.5" text-anchor="end" fill="#2a2a2a" stroke="#2a2a2a" stroke-width="0.1">RS4;11</text>
<rect x="452.32" y="304" width="6.4" height="3.72" fill="#0f9fdb"/>
<rect x="452.32" y="307.7" width="6.4" height="1.92" fill="#fbe85c"/>
<rect x="452.32" y="309.6" width="6.4" height="2.72" fill="#80c07e"/>
<rect x="452.32" y="312.3" width="6.4" height="3.32" fill="#d89a6a"/>
<rect x="452.32" y="315.6" width="6.4" height="12.02" fill="#f4bcc4"/>
<line x1="455.52" y1="331.6" x2="455.52" y2="335.6" stroke="#111" stroke-width="1.1"/>
<text transform="translate(458.37,340.1) rotate(-90)" font-size="8.5" text-anchor="end" fill="#2a2a2a" stroke="#2a2a2a" stroke-width="0.1">SEM</text>
<rect x="461.48" y="311.8" width="6.4" height="2.02" fill="#0f9fdb"/>
<rect x="461.48" y="313.8" width="6.4" height="1.62" fill="#fbe85c"/>
<rect x="461.48" y="315.4" width="6.4" height="2.62" fill="#80c07e"/>
<rect x="461.48" y="318" width="6.4" height="2.82" fill="#d89a6a"/>
<rect x="461.48" y="320.8" width="6.4" height="6.82" fill="#f4bcc4"/>
<line x1="464.68" y1="331.6" x2="464.68" y2="335.6" stroke="#111" stroke-width="1.1"/>
<text transform="translate(467.53,340.1) rotate(-90)" font-size="8.5" text-anchor="end" fill="#2a2a2a" stroke="#2a2a2a" stroke-width="0.1">TF-1</text>
<rect x="470.64" y="295.8" width="6.4" height="4.72" fill="#0f9fdb"/>
<rect x="470.64" y="300.5" width="6.4" height="3.02" fill="#fbe85c"/>
<rect x="470.64" y="303.5" width="6.4" height="4.22" fill="#80c07e"/>
<rect x="470.64" y="307.7" width="6.4" height="6.12" fill="#d89a6a"/>
<rect x="470.64" y="313.8" width="6.4" height="13.82" fill="#f4bcc4"/>
<line x1="473.84" y1="331.6" x2="473.84" y2="335.6" stroke="#111" stroke-width="1.1"/>
<text transform="translate(476.69,340.1) rotate(-90)" font-size="8.5" text-anchor="end" fill="#2a2a2a" stroke="#2a2a2a" stroke-width="0.1">THP-1</text>
<rect x="479.81" y="324.2" width="6.4" height="0.22" fill="#0f9fdb"/>
<rect x="479.81" y="324.4" width="6.4" height="0.22" fill="#fbe85c"/>
<rect x="479.81" y="324.6" width="6.4" height="0.92" fill="#80c07e"/>
<rect x="479.81" y="325.5" width="6.4" height="1.02" fill="#d89a6a"/>
<rect x="479.81" y="326.5" width="6.4" height="1.12" fill="#f4bcc4"/>
<line x1="483.01" y1="331.6" x2="483.01" y2="335.6" stroke="#111" stroke-width="1.1"/>
<text transform="translate(485.86,340.1) rotate(-90)" font-size="8.5" text-anchor="end" fill="#2a2a2a" stroke="#2a2a2a" stroke-width="0.1">TSU-1621-MT</text>
<rect x="488.97" y="306.6" width="6.4" height="2.62" fill="#0f9fdb"/>
<rect x="488.97" y="309.2" width="6.4" height="2.02" fill="#fbe85c"/>
<rect x="488.97" y="311.2" width="6.4" height="2.62" fill="#80c07e"/>
<rect x="488.97" y="313.8" width="6.4" height="3.92" fill="#d89a6a"/>
<rect x="488.97" y="317.7" width="6.4" height="9.92" fill="#f4bcc4"/>
<line x1="492.17" y1="331.6" x2="492.17" y2="335.6" stroke="#111" stroke-width="1.1"/>
<text transform="translate(495.02,340.1) rotate(-90)" font-size="8.5" text-anchor="end" fill="#2a2a2a" stroke="#2a2a2a" stroke-width="0.1">U937</text>
<rect x="498.14" y="310.8" width="6.4" height="2.32" fill="#0f9fdb"/>
<rect x="498.14" y="313.1" width="6.4" height="1.52" fill="#fbe85c"/>
<rect x="498.14" y="314.6" width="6.4" height="2.32" fill="#80c07e"/>
<rect x="498.14" y="316.9" width="6.4" height="3.92" fill="#d89a6a"/>
<rect x="498.14" y="320.8" width="6.4" height="6.82" fill="#f4bcc4"/>
<line x1="501.34" y1="331.6" x2="501.34" y2="335.6" stroke="#111" stroke-width="1.1"/>
<text transform="translate(504.19,340.1) rotate(-90)" font-size="8.5" text-anchor="end" fill="#2a2a2a" stroke="#2a2a2a" stroke-width="0.1">UCSD-AML1</text>
<rect x="507.3" y="294.9" width="6.4" height="5.12" fill="#0f9fdb"/>
<rect x="507.3" y="300" width="6.4" height="3.52" fill="#fbe85c"/>
<rect x="507.3" y="303.5" width="6.4" height="4.22" fill="#80c07e"/>
<rect x="507.3" y="307.7" width="6.4" height="5.42" fill="#d89a6a"/>
<rect x="507.3" y="313.1" width="6.4" height="14.52" fill="#f4bcc4"/>
<line x1="510.5" y1="331.6" x2="510.5" y2="335.6" stroke="#111" stroke-width="1.1"/>
<text transform="translate(513.35,340.1) rotate(-90)" font-size="8.5" text-anchor="end" fill="#2a2a2a" stroke="#2a2a2a" stroke-width="0.1">UT-7</text>
<line x1="46.5" y1="215.1" x2="46.5" y2="332.2" stroke="#111" stroke-width="1.1"/>
<line x1="45.95" y1="331.6" x2="515.8" y2="331.6" stroke="#111" stroke-width="1.1"/>
<line x1="42.7" y1="219" x2="46.5" y2="219" stroke="#111" stroke-width="1.1"/>
<text x="38.2" y="221.7" font-size="8.8" text-anchor="end" fill="#2a2a2a" stroke="#2a2a2a" stroke-width="0.1">20000</text>
<line x1="42.7" y1="246.2" x2="46.5" y2="246.2" stroke="#111" stroke-width="1.1"/>
<text x="38.2" y="248.9" font-size="8.8" text-anchor="end" fill="#2a2a2a" stroke="#2a2a2a" stroke-width="0.1">15000</text>
<line x1="42.7" y1="273.3" x2="46.5" y2="273.3" stroke="#111" stroke-width="1.1"/>
<text x="38.2" y="276" font-size="8.8" text-anchor="end" fill="#2a2a2a" stroke="#2a2a2a" stroke-width="0.1">10000</text>
<line x1="42.7" y1="300.4" x2="46.5" y2="300.4" stroke="#111" stroke-width="1.1"/>
<text x="38.2" y="303.1" font-size="8.8" text-anchor="end" fill="#2a2a2a" stroke="#2a2a2a" stroke-width="0.1">5000</text>
<line x1="42.7" y1="327.6" x2="46.5" y2="327.6" stroke="#111" stroke-width="1.1"/>
<text x="38.2" y="330.3" font-size="8.8" text-anchor="end" fill="#2a2a2a" stroke="#2a2a2a" stroke-width="0.1">0</text>
<text x="1.8" y="412.3" font-size="15.5" font-weight="bold" fill="#000" stroke="#000" stroke-width="0.3">D</text>
<rect x="48.15" y="536.5" width="6.7" height="0.22" fill="#0f9fdb"/>
<rect x="48.15" y="536.7" width="6.7" height="0.22" fill="#fbe85c"/>
<rect x="48.15" y="536.9" width="6.7" height="1.12" fill="#80c07e"/>
<rect x="48.15" y="538" width="6.7" height="0.32" fill="#d89a6a"/>
<rect x="48.15" y="538.3" width="6.7" height="4.92" fill="#f4bcc4"/>
<line x1="51.5" y1="549.3" x2="51.5" y2="553.3" stroke="#111" stroke-width="1.1"/>
<text transform="translate(54.35,557.3) rotate(-90)" font-size="8.5" text-anchor="end" fill="#2f9fd6" stroke="#2f9fd6" stroke-width="0.1">UT-7</text>
<rect x="57.57" y="537.9" width="6.7" height="0.12" fill="#0f9fdb"/>
<rect x="57.57" y="538" width="6.7" height="0.12" fill="#fbe85c"/>
<rect x="57.57" y="538.1" width="6.7" height="0.92" fill="#80c07e"/>
<rect x="57.57" y="539" width="6.7" height="0.32" fill="#d89a6a"/>
<rect x="57.57" y="539.3" width="6.7" height="3.92" fill="#f4bcc4"/>
<line x1="60.92" y1="549.3" x2="60.92" y2="553.3" stroke="#111" stroke-width="1.1"/>
<text transform="translate(63.77,557.3) rotate(-90)" font-size="8.5" text-anchor="end" fill="#e0a868" stroke="#e0a868" stroke-width="0.1">THP-1</text>
<rect x="66.99" y="540.4" width="6.7" height="0.8" fill="#bfb0a8"/>
<rect x="66.99" y="541" width="6.7" height="2.2" fill="#f4bcc4"/>
<line x1="70.34" y1="549.3" x2="70.34" y2="553.3" stroke="#111" stroke-width="1.1"/>
<text transform="translate(73.19,557.3) rotate(-90)" font-size="8.5" text-anchor="end" fill="#efa03c" stroke="#efa03c" stroke-width="0.1">ML-2</text>
<rect x="76.41" y="541" width="6.7" height="0.8" fill="#bfb0a8"/>
<rect x="76.41" y="541.6" width="6.7" height="1.6" fill="#f4bcc4"/>
<line x1="79.76" y1="549.3" x2="79.76" y2="553.3" stroke="#111" stroke-width="1.1"/>
<text transform="translate(82.61,557.3) rotate(-90)" font-size="8.5" text-anchor="end" fill="#efa03c" stroke="#efa03c" stroke-width="0.1">NOMO-1</text>
<rect x="85.83" y="541.3" width="6.7" height="0.8" fill="#bfb0a8"/>
<rect x="85.83" y="541.9" width="6.7" height="1.3" fill="#f4bcc4"/>
<line x1="89.18" y1="549.3" x2="89.18" y2="553.3" stroke="#111" stroke-width="1.1"/>
<text transform="translate(92.03,557.3) rotate(-90)" font-size="8.5" text-anchor="end" fill="#efa03c" stroke="#efa03c" stroke-width="0.1">U937</text>
<rect x="95.25" y="541.9" width="6.7" height="0.8" fill="#bfb0a8"/>
<rect x="95.25" y="542.5" width="6.7" height="0.7" fill="#f4bcc4"/>
<line x1="98.6" y1="549.3" x2="98.6" y2="553.3" stroke="#111" stroke-width="1.1"/>
<text transform="translate(101.45,557.3) rotate(-90)" font-size="8.5" text-anchor="end" fill="#efa03c" stroke="#efa03c" stroke-width="0.1">MV4-11</text>
<rect x="104.67" y="542.3" width="6.7" height="0.8" fill="#bfb0a8"/>
<rect x="104.67" y="542.9" width="6.7" height="0.3" fill="#f4bcc4"/>
<line x1="108.02" y1="549.3" x2="108.02" y2="553.3" stroke="#111" stroke-width="1.1"/>
<text transform="translate(110.87,557.3) rotate(-90)" font-size="8.5" text-anchor="end" fill="#efa03c" stroke="#efa03c" stroke-width="0.1">MA9.3ITD</text>
<rect x="114.09" y="542.7" width="6.7" height="0.6" fill="#bfb0a8"/>
<line x1="117.44" y1="549.3" x2="117.44" y2="553.3" stroke="#111" stroke-width="1.1"/>
<text transform="translate(120.29,557.3) rotate(-90)" font-size="8.5" text-anchor="end" fill="#e6a860" stroke="#e6a860" stroke-width="0.1">Mono-Mac-6</text>
<rect x="123.51" y="508.7" width="6.7" height="1.02" fill="#0f9fdb"/>
<rect x="123.51" y="509.7" width="6.7" height="0.72" fill="#fbe85c"/>
<rect x="123.51" y="510.4" width="6.7" height="5.22" fill="#80c07e"/>
<rect x="123.51" y="515.6" width="6.7" height="2.22" fill="#d89a6a"/>
<rect x="123.51" y="517.8" width="6.7" height="25.42" fill="#f4bcc4"/>
<line x1="126.86" y1="549.3" x2="126.86" y2="553.3" stroke="#111" stroke-width="1.1"/>
<text transform="translate(129.71,557.3) rotate(-90)" font-size="8.5" text-anchor="end" fill="#2fa35e" stroke="#2fa35e" stroke-width="0.1">MOLM-14</text>
<rect x="132.93" y="528.6" width="6.7" height="1.22" fill="#0f9fdb"/>
<rect x="132.93" y="529.8" width="6.7" height="1.12" fill="#fbe85c"/>
<rect x="132.93" y="530.9" width="6.7" height="2.52" fill="#80c07e"/>
<rect x="132.93" y="533.4" width="6.7" height="0.42" fill="#d89a6a"/>
<rect x="132.93" y="533.8" width="6.7" height="9.42" fill="#f4bcc4"/>
<line x1="136.28" y1="549.3" x2="136.28" y2="553.3" stroke="#111" stroke-width="1.1"/>
<text transform="translate(139.13,557.3) rotate(-90)" font-size="8.5" text-anchor="end" fill="#2fa35e" stroke="#2fa35e" stroke-width="0.1">KG1</text>
<rect x="142.35" y="532.9" width="6.7" height="0.22" fill="#0f9fdb"/>
<rect x="142.35" y="533.1" width="6.7" height="0.22" fill="#fbe85c"/>
<rect x="142.35" y="533.3" width="6.7" height="1.22" fill="#80c07e"/>
<rect x="142.35" y="534.5" width="6.7" height="0.72" fill="#d89a6a"/>
<rect x="142.35" y="535.2" width="6.7" height="8.02" fill="#f4bcc4"/>
<line x1="145.7" y1="549.3" x2="145.7" y2="553.3" stroke="#111" stroke-width="1.1"/>
<text transform="translate(148.55,557.3) rotate(-90)" font-size="8.5" text-anchor="end" fill="#2fa35e" stroke="#2fa35e" stroke-width="0.1">ME-1</text>
<rect x="151.77" y="538.6" width="6.7" height="0.12" fill="#0f9fdb"/>
<rect x="151.77" y="538.7" width="6.7" height="0.12" fill="#fbe85c"/>
<rect x="151.77" y="538.8" width="6.7" height="1.02" fill="#80c07e"/>
<rect x="151.77" y="539.8" width="6.7" height="0.32" fill="#d89a6a"/>
<rect x="151.77" y="540.1" width="6.7" height="3.12" fill="#f4bcc4"/>
<line x1="155.12" y1="549.3" x2="155.12" y2="553.3" stroke="#111" stroke-width="1.1"/>
<text transform="translate(157.97,557.3) rotate(-90)" font-size="8.5" text-anchor="end" fill="#2fa35e" stroke="#2fa35e" stroke-width="0.1">KASUMI-1</text>
<rect x="161.19" y="542.1" width="6.7" height="0.8" fill="#bfb0a8"/>
<rect x="161.19" y="542.7" width="6.7" height="0.5" fill="#f4bcc4"/>
<line x1="164.54" y1="549.3" x2="164.54" y2="553.3" stroke="#111" stroke-width="1.1"/>
<text transform="translate(167.39,557.3) rotate(-90)" font-size="8.5" text-anchor="end" fill="#2fa35e" stroke="#2fa35e" stroke-width="0.1">UCSD-AML1</text>
<rect x="170.61" y="542.6" width="6.7" height="0.6" fill="#bfb0a8"/>
<rect x="170.61" y="543.2" width="6.7" height="0" fill="#f4bcc4"/>
<line x1="173.96" y1="549.3" x2="173.96" y2="553.3" stroke="#111" stroke-width="1.1"/>
<text transform="translate(176.81,557.3) rotate(-90)" font-size="8.5" text-anchor="end" fill="#2fa35e" stroke="#2fa35e" stroke-width="0.1">OCI-AML3</text>
<rect x="180.03" y="542.9" width="6.7" height="0.6" fill="#bfb0a8"/>
<line x1="183.38" y1="549.3" x2="183.38" y2="553.3" stroke="#111" stroke-width="1.1"/>
<text transform="translate(186.23,557.3) rotate(-90)" font-size="8.5" text-anchor="end" fill="#2fa35e" stroke="#2fa35e" stroke-width="0.1">IMS-M2</text>
<rect x="189.45" y="542.9" width="6.7" height="0.6" fill="#bfb0a8"/>
<line x1="192.8" y1="549.3" x2="192.8" y2="553.3" stroke="#111" stroke-width="1.1"/>
<text transform="translate(195.65,557.3) rotate(-90)" font-size="8.5" text-anchor="end" fill="#47b57a" stroke="#47b57a" stroke-width="0.1">TSU-1621-MT</text>
<rect x="198.87" y="543" width="6.7" height="0.6" fill="#bfb0a8"/>
<line x1="202.22" y1="549.3" x2="202.22" y2="553.3" stroke="#111" stroke-width="1.1"/>
<text transform="translate(205.07,557.3) rotate(-90)" font-size="8.5" text-anchor="end" fill="#2fa35e" stroke="#2fa35e" stroke-width="0.1">OCI-AML2</text>
<rect x="208.29" y="543" width="6.7" height="0.6" fill="#bfb0a8"/>
<line x1="211.64" y1="549.3" x2="211.64" y2="553.3" stroke="#111" stroke-width="1.1"/>
<text transform="translate(214.49,557.3) rotate(-90)" font-size="8.5" text-anchor="end" fill="#2fa35e" stroke="#2fa35e" stroke-width="0.1">MOLM-13</text>
<rect x="217.71" y="425.2" width="6.7" height="5.62" fill="#0f9fdb"/>
<rect x="217.71" y="430.8" width="6.7" height="3.82" fill="#fbe85c"/>
<rect x="217.71" y="434.6" width="6.7" height="30.12" fill="#80c07e"/>
<rect x="217.71" y="464.7" width="6.7" height="0.32" fill="#d89a6a"/>
<rect x="217.71" y="465" width="6.7" height="78.22" fill="#f4bcc4"/>
<line x1="221.06" y1="549.3" x2="221.06" y2="553.3" stroke="#111" stroke-width="1.1"/>
<text transform="translate(223.91,557.3) rotate(-90)" font-size="8.5" text-anchor="end" fill="#9a62b3" stroke="#9a62b3" stroke-width="0.1">HL-60/S4</text>
<rect x="227.13" y="539.2" width="6.7" height="0.12" fill="#0f9fdb"/>
<rect x="227.13" y="539.3" width="6.7" height="0.12" fill="#fbe85c"/>
<rect x="227.13" y="539.4" width="6.7" height="0.82" fill="#80c07e"/>
<rect x="227.13" y="540.2" width="6.7" height="0.42" fill="#d89a6a"/>
<rect x="227.13" y="540.6" width="6.7" height="2.62" fill="#f4bcc4"/>
<line x1="230.48" y1="549.3" x2="230.48" y2="553.3" stroke="#111" stroke-width="1.1"/>
<text transform="translate(233.33,557.3) rotate(-90)" font-size="8.5" text-anchor="end" fill="#b27fcc" stroke="#b27fcc" stroke-width="0.1">NB4</text>
<rect x="236.55" y="542.9" width="6.7" height="0.6" fill="#bfb0a8"/>
<line x1="239.9" y1="549.3" x2="239.9" y2="553.3" stroke="#111" stroke-width="1.1"/>
<text transform="translate(242.75,557.3) rotate(-90)" font-size="8.5" text-anchor="end" fill="#8c7fa0" stroke="#8c7fa0" stroke-width="0.1">HL-60</text>
<rect x="245.97" y="527.1" width="6.7" height="0.22" fill="#0f9fdb"/>
<rect x="245.97" y="527.3" width="6.7" height="0.22" fill="#fbe85c"/>
<rect x="245.97" y="527.5" width="6.7" height="3.42" fill="#80c07e"/>
<rect x="245.97" y="530.9" width="6.7" height="0.62" fill="#d89a6a"/>
<rect x="245.97" y="531.5" width="6.7" height="11.72" fill="#f4bcc4"/>
<line x1="249.32" y1="549.3" x2="249.32" y2="553.3" stroke="#111" stroke-width="1.1"/>
<text transform="translate(252.17,557.3) rotate(-90)" font-size="8.5" text-anchor="end" fill="#7d7d7d" stroke="#7d7d7d" stroke-width="0.1">RCH-ACV</text>
<rect x="255.39" y="539.2" width="6.7" height="0.12" fill="#0f9fdb"/>
<rect x="255.39" y="539.3" width="6.7" height="0.12" fill="#fbe85c"/>
<rect x="255.39" y="539.4" width="6.7" height="0.52" fill="#80c07e"/>
<rect x="255.39" y="539.9" width="6.7" height="0.32" fill="#d89a6a"/>
<rect x="255.39" y="540.2" width="6.7" height="3.02" fill="#f4bcc4"/>
<line x1="258.74" y1="549.3" x2="258.74" y2="553.3" stroke="#111" stroke-width="1.1"/>
<text transform="translate(261.59,557.3) rotate(-90)" font-size="8.5" text-anchor="end" fill="#7d7d7d" stroke="#7d7d7d" stroke-width="0.1">CEMO-1</text>
<rect x="264.81" y="539.6" width="6.7" height="0.8" fill="#bfb0a8"/>
<rect x="264.81" y="540.2" width="6.7" height="3" fill="#f4bcc4"/>
<line x1="268.16" y1="549.3" x2="268.16" y2="553.3" stroke="#111" stroke-width="1.1"/>
<text transform="translate(271.01,557.3) rotate(-90)" font-size="8.5" text-anchor="end" fill="#7d7d7d" stroke="#7d7d7d" stroke-width="0.1">697</text>
<rect x="274.23" y="504.4" width="6.7" height="0.22" fill="#0f9fdb"/>
<rect x="274.23" y="504.6" width="6.7" height="0.22" fill="#fbe85c"/>
<rect x="274.23" y="504.8" width="6.7" height="4.82" fill="#80c07e"/>
<rect x="274.23" y="509.6" width="6.7" height="0.42" fill="#d89a6a"/>
<rect x="274.23" y="510" width="6.7" height="33.22" fill="#f4bcc4"/>
<line x1="277.58" y1="549.3" x2="277.58" y2="553.3" stroke="#111" stroke-width="1.1"/>
<text transform="translate(280.43,557.3) rotate(-90)" font-size="8.5" text-anchor="end" fill="#c6c13c" stroke="#c6c13c" stroke-width="0.1">MEC-1</text>
<rect x="283.65" y="516" width="6.7" height="0.22" fill="#0f9fdb"/>
<rect x="283.65" y="516.2" width="6.7" height="0.22" fill="#fbe85c"/>
<rect x="283.65" y="516.4" width="6.7" height="3.82" fill="#80c07e"/>
<rect x="283.65" y="520.2" width="6.7" height="0.42" fill="#d89a6a"/>
<rect x="283.65" y="520.6" width="6.7" height="22.62" fill="#f4bcc4"/>
<line x1="287" y1="549.3" x2="287" y2="553.3" stroke="#111" stroke-width="1.1"/>
<text transform="translate(289.85,557.3) rotate(-90)" font-size="8.5" text-anchor="end" fill="#c6c13c" stroke="#c6c13c" stroke-width="0.1">GM12878</text>
<rect x="293.07" y="541.5" width="6.7" height="0.8" fill="#bfb0a8"/>
<rect x="293.07" y="542.1" width="6.7" height="1.1" fill="#f4bcc4"/>
<line x1="296.42" y1="549.3" x2="296.42" y2="553.3" stroke="#111" stroke-width="1.1"/>
<text transform="translate(299.27,557.3) rotate(-90)" font-size="8.5" text-anchor="end" fill="#c6c13c" stroke="#c6c13c" stroke-width="0.1">MO1043</text>
<rect x="302.49" y="505" width="6.7" height="1.92" fill="#0f9fdb"/>
<rect x="302.49" y="506.9" width="6.7" height="1.62" fill="#fbe85c"/>
<rect x="302.49" y="508.5" width="6.7" height="3.02" fill="#80c07e"/>
<rect x="302.49" y="511.5" width="6.7" height="1.52" fill="#d89a6a"/>
<rect x="302.49" y="513" width="6.7" height="30.22" fill="#f4bcc4"/>
<line x1="305.84" y1="549.3" x2="305.84" y2="553.3" stroke="#111" stroke-width="1.1"/>
<text transform="translate(308.69,557.3) rotate(-90)" font-size="8.5" text-anchor="end" fill="#2c74b2" stroke="#2c74b2" stroke-width="0.1">HAP-1</text>
<rect x="311.91" y="519.8" width="6.7" height="1.92" fill="#0f9fdb"/>
<rect x="311.91" y="521.7" width="6.7" height="2.02" fill="#fbe85c"/>
<rect x="311.91" y="523.7" width="6.7" height="2.52" fill="#80c07e"/>
<rect x="311.91" y="526.2" width="6.7" height="0.42" fill="#d89a6a"/>
<rect x="311.91" y="526.6" width="6.7" height="16.62" fill="#f4bcc4"/>
<line x1="315.26" y1="549.3" x2="315.26" y2="553.3" stroke="#111" stroke-width="1.1"/>
<text transform="translate(318.11,557.3) rotate(-90)" font-size="8.5" text-anchor="end" fill="#2c74b2" stroke="#2c74b2" stroke-width="0.1">KCL-22</text>
<rect x="321.33" y="533.3" width="6.7" height="0.12" fill="#0f9fdb"/>
<rect x="321.33" y="533.4" width="6.7" height="0.12" fill="#fbe85c"/>
<rect x="321.33" y="533.5" width="6.7" height="1.72" fill="#80c07e"/>
<rect x="321.33" y="535.2" width="6.7" height="0.32" fill="#d89a6a"/>
<rect x="321.33" y="535.5" width="6.7" height="7.72" fill="#f4bcc4"/>
<line x1="324.68" y1="549.3" x2="324.68" y2="553.3" stroke="#111" stroke-width="1.1"/>
<text transform="translate(327.53,557.3) rotate(-90)" font-size="8.5" text-anchor="end" fill="#2c74b2" stroke="#2c74b2" stroke-width="0.1">MEG-01</text>
<rect x="330.75" y="535.6" width="6.7" height="0.12" fill="#0f9fdb"/>
<rect x="330.75" y="535.7" width="6.7" height="0.12" fill="#fbe85c"/>
<rect x="330.75" y="535.8" width="6.7" height="1.32" fill="#80c07e"/>
<rect x="330.75" y="537.1" width="6.7" height="0.32" fill="#d89a6a"/>
<rect x="330.75" y="537.4" width="6.7" height="5.82" fill="#f4bcc4"/>
<line x1="334.1" y1="549.3" x2="334.1" y2="553.3" stroke="#111" stroke-width="1.1"/>
<text transform="translate(336.95,557.3) rotate(-90)" font-size="8.5" text-anchor="end" fill="#2c74b2" stroke="#2c74b2" stroke-width="0.1">K562</text>
<rect x="340.17" y="541" width="6.7" height="0.8" fill="#bfb0a8"/>
<rect x="340.17" y="541.6" width="6.7" height="1.6" fill="#f4bcc4"/>
<line x1="343.52" y1="549.3" x2="343.52" y2="553.3" stroke="#111" stroke-width="1.1"/>
<text transform="translate(346.37,557.3) rotate(-90)" font-size="8.5" text-anchor="end" fill="#2c74b2" stroke="#2c74b2" stroke-width="0.1">KU812</text>
<rect x="349.59" y="541.3" width="6.7" height="0.8" fill="#bfb0a8"/>
<rect x="349.59" y="541.9" width="6.7" height="1.3" fill="#f4bcc4"/>
<line x1="352.94" y1="549.3" x2="352.94" y2="553.3" stroke="#111" stroke-width="1.1"/>
<text transform="translate(355.79,557.3) rotate(-90)" font-size="8.5" text-anchor="end" fill="#2c74b2" stroke="#2c74b2" stroke-width="0.1">KBM7</text>
<rect x="359.01" y="541.9" width="6.7" height="0.8" fill="#bfb0a8"/>
<rect x="359.01" y="542.5" width="6.7" height="0.7" fill="#f4bcc4"/>
<line x1="362.36" y1="549.3" x2="362.36" y2="553.3" stroke="#111" stroke-width="1.1"/>
<text transform="translate(365.21,557.3) rotate(-90)" font-size="8.5" text-anchor="end" fill="#2c74b2" stroke="#2c74b2" stroke-width="0.1">TF-1</text>
<rect x="368.43" y="540.4" width="6.7" height="0.8" fill="#bfb0a8"/>
<rect x="368.43" y="541" width="6.7" height="2.2" fill="#f4bcc4"/>
<line x1="371.78" y1="549.3" x2="371.78" y2="553.3" stroke="#111" stroke-width="1.1"/>
<text transform="translate(374.63,557.3) rotate(-90)" font-size="8.5" text-anchor="end" fill="#2ea052" stroke="#2ea052" stroke-width="0.1">F-36P</text>
<rect x="377.85" y="454" width="6.7" height="4.02" fill="#0f9fdb"/>
<rect x="377.85" y="458" width="6.7" height="4.22" fill="#fbe85c"/>
<rect x="377.85" y="462.2" width="6.7" height="15.52" fill="#80c07e"/>
<rect x="377.85" y="477.7" width="6.7" height="1.72" fill="#d89a6a"/>
<rect x="377.85" y="479.4" width="6.7" height="63.82" fill="#f4bcc4"/>
<line x1="381.2" y1="549.3" x2="381.2" y2="553.3" stroke="#111" stroke-width="1.1"/>
<text transform="translate(384.05,557.3) rotate(-90)" font-size="8.5" text-anchor="end" fill="#eeac84" stroke="#eeac84" stroke-width="0.1">JJN3</text>
<rect x="387.27" y="531.3" width="6.7" height="0.12" fill="#0f9fdb"/>
<rect x="387.27" y="531.4" width="6.7" height="0.12" fill="#fbe85c"/>
<rect x="387.27" y="531.5" width="6.7" height="3.12" fill="#80c07e"/>
<rect x="387.27" y="534.6" width="6.7" height="0.42" fill="#d89a6a"/>
<rect x="387.27" y="535" width="6.7" height="8.22" fill="#f4bcc4"/>
<line x1="390.62" y1="549.3" x2="390.62" y2="553.3" stroke="#111" stroke-width="1.1"/>
<text transform="translate(393.47,557.3) rotate(-90)" font-size="8.5" text-anchor="end" fill="#7d6464" stroke="#7d6464" stroke-width="0.1">REH</text>
<rect x="396.69" y="540.4" width="6.7" height="0.8" fill="#bfb0a8"/>
<rect x="396.69" y="541" width="6.7" height="2.2" fill="#f4bcc4"/>
<line x1="400.04" y1="549.3" x2="400.04" y2="553.3" stroke="#111" stroke-width="1.1"/>
<text transform="translate(402.89,557.3) rotate(-90)" font-size="8.5" text-anchor="end" fill="#7d6464" stroke="#7d6464" stroke-width="0.1">NALM-6</text>
<rect x="406.11" y="521.3" width="6.7" height="0.12" fill="#0f9fdb"/>
<rect x="406.11" y="521.4" width="6.7" height="0.12" fill="#fbe85c"/>
<rect x="406.11" y="521.5" width="6.7" height="3.52" fill="#80c07e"/>
<rect x="406.11" y="525" width="6.7" height="0.52" fill="#d89a6a"/>
<rect x="406.11" y="525.5" width="6.7" height="17.72" fill="#f4bcc4"/>
<line x1="409.46" y1="549.3" x2="409.46" y2="553.3" stroke="#111" stroke-width="1.1"/>
<text transform="translate(412.31,557.3) rotate(-90)" font-size="8.5" text-anchor="end" fill="#d48fd0" stroke="#d48fd0" stroke-width="0.1">SEM</text>
<rect x="415.53" y="517.9" width="6.7" height="0.92" fill="#0f9fdb"/>
<rect x="415.53" y="518.8" width="6.7" height="0.22" fill="#fbe85c"/>
<rect x="415.53" y="519" width="6.7" height="2.72" fill="#80c07e"/>
<rect x="415.53" y="521.7" width="6.7" height="0.52" fill="#d89a6a"/>
<rect x="415.53" y="522.2" width="6.7" height="21.02" fill="#f4bcc4"/>
<line x1="418.88" y1="549.3" x2="418.88" y2="553.3" stroke="#111" stroke-width="1.1"/>
<text transform="translate(421.73,557.3) rotate(-90)" font-size="8.5" text-anchor="end" fill="#dd3a48" stroke="#dd3a48" stroke-width="0.1">MOLT4</text>
<rect x="424.95" y="520.8" width="6.7" height="0.72" fill="#0f9fdb"/>
<rect x="424.95" y="521.5" width="6.7" height="0.22" fill="#fbe85c"/>
<rect x="424.95" y="521.7" width="6.7" height="3.92" fill="#80c07e"/>
<rect x="424.95" y="525.6" width="6.7" height="0.42" fill="#d89a6a"/>
<rect x="424.95" y="526" width="6.7" height="17.22" fill="#f4bcc4"/>
<line x1="428.3" y1="549.3" x2="428.3" y2="553.3" stroke="#111" stroke-width="1.1"/>
<text transform="translate(431.15,557.3) rotate(-90)" font-size="8.5" text-anchor="end" fill="#dd3a48" stroke="#dd3a48" stroke-width="0.1">HPB-ALL</text>
<rect x="434.37" y="532.3" width="6.7" height="0.12" fill="#0f9fdb"/>
<rect x="434.37" y="532.4" width="6.7" height="0.12" fill="#fbe85c"/>
<rect x="434.37" y="532.5" width="6.7" height="2.72" fill="#80c07e"/>
<rect x="434.37" y="535.2" width="6.7" height="0.32" fill="#d89a6a"/>
<rect x="434.37" y="535.5" width="6.7" height="7.72" fill="#f4bcc4"/>
<line x1="437.72" y1="549.3" x2="437.72" y2="553.3" stroke="#111" stroke-width="1.1"/>
<text transform="translate(440.57,557.3) rotate(-90)" font-size="8.5" text-anchor="end" fill="#dd3a48" stroke="#dd3a48" stroke-width="0.1">CCRF-CEM</text>
<rect x="443.79" y="534.6" width="6.7" height="0.12" fill="#0f9fdb"/>
<rect x="443.79" y="534.7" width="6.7" height="0.12" fill="#fbe85c"/>
<rect x="443.79" y="534.8" width="6.7" height="1.42" fill="#80c07e"/>
<rect x="443.79" y="536.2" width="6.7" height="0.32" fill="#d89a6a"/>
<rect x="443.79" y="536.5" width="6.7" height="6.72" fill="#f4bcc4"/>
<line x1="447.14" y1="549.3" x2="447.14" y2="553.3" stroke="#111" stroke-width="1.1"/>
<text transform="translate(449.99,557.3) rotate(-90)" font-size="8.5" text-anchor="end" fill="#dd3a48" stroke="#dd3a48" stroke-width="0.1">CEM</text>
<rect x="453.21" y="537.7" width="6.7" height="0.8" fill="#bfb0a8"/>
<rect x="453.21" y="538.3" width="6.7" height="4.9" fill="#f4bcc4"/>
<line x1="456.56" y1="549.3" x2="456.56" y2="553.3" stroke="#111" stroke-width="1.1"/>
<text transform="translate(459.41,557.3) rotate(-90)" font-size="8.5" text-anchor="end" fill="#dd3a48" stroke="#dd3a48" stroke-width="0.1">ALL-SIL</text>
<rect x="462.63" y="541.8" width="6.7" height="0.8" fill="#bfb0a8"/>
<rect x="462.63" y="542.4" width="6.7" height="0.8" fill="#f4bcc4"/>
<line x1="465.98" y1="549.3" x2="465.98" y2="553.3" stroke="#111" stroke-width="1.1"/>
<text transform="translate(468.83,557.3) rotate(-90)" font-size="8.5" text-anchor="end" fill="#dd3a48" stroke="#dd3a48" stroke-width="0.1">KOPTK1</text>
<rect x="472.05" y="542.3" width="6.7" height="0.8" fill="#bfb0a8"/>
<rect x="472.05" y="542.9" width="6.7" height="0.3" fill="#f4bcc4"/>
<line x1="475.4" y1="549.3" x2="475.4" y2="553.3" stroke="#111" stroke-width="1.1"/>
<text transform="translate(478.25,557.3) rotate(-90)" font-size="8.5" text-anchor="end" fill="#dd3a48" stroke="#dd3a48" stroke-width="0.1">CUTLL1</text>
<rect x="481.47" y="542.8" width="6.7" height="0.6" fill="#bfb0a8"/>
<line x1="484.82" y1="549.3" x2="484.82" y2="553.3" stroke="#111" stroke-width="1.1"/>
<text transform="translate(487.67,557.3) rotate(-90)" font-size="8.5" text-anchor="end" fill="#dd3a48" stroke="#dd3a48" stroke-width="0.1">MOLT-3</text>
<rect x="490.89" y="543" width="6.7" height="0.6" fill="#bfb0a8"/>
<line x1="494.24" y1="549.3" x2="494.24" y2="553.3" stroke="#111" stroke-width="1.1"/>
<text transform="translate(497.09,557.3) rotate(-90)" font-size="8.5" text-anchor="end" fill="#dd3a48" stroke="#dd3a48" stroke-width="0.1">LOUCY</text>
<rect x="500.31" y="543" width="6.7" height="0.6" fill="#bfb0a8"/>
<line x1="503.66" y1="549.3" x2="503.66" y2="553.3" stroke="#111" stroke-width="1.1"/>
<text transform="translate(506.51,557.3) rotate(-90)" font-size="8.5" text-anchor="end" fill="#dd3a48" stroke="#dd3a48" stroke-width="0.1">Jurkat E6.1</text>
<rect x="509.73" y="543" width="6.7" height="0.6" fill="#bfb0a8"/>
<line x1="513.08" y1="549.3" x2="513.08" y2="553.3" stroke="#111" stroke-width="1.1"/>
<text transform="translate(515.93,557.3) rotate(-90)" font-size="8.5" text-anchor="end" fill="#dd3a48" stroke="#dd3a48" stroke-width="0.1">Jurkat</text>
<line x1="46" y1="418.8" x2="46" y2="549.9" stroke="#111" stroke-width="1.1"/>
<line x1="45.45" y1="549.3" x2="518.5" y2="549.3" stroke="#111" stroke-width="1.1"/>
<line x1="42" y1="435.4" x2="46" y2="435.4" stroke="#111" stroke-width="1.1"/>
<text x="37.6" y="438.1" font-size="8.8" text-anchor="end" fill="#2a2a2a" stroke="#2a2a2a" stroke-width="0.1">3000</text>
<line x1="42" y1="471.2" x2="46" y2="471.2" stroke="#111" stroke-width="1.1"/>
<text x="37.6" y="473.9" font-size="8.8" text-anchor="end" fill="#2a2a2a" stroke="#2a2a2a" stroke-width="0.1">2000</text>
<line x1="42" y1="507.1" x2="46" y2="507.1" stroke="#111" stroke-width="1.1"/>
<text x="37.6" y="509.8" font-size="8.8" text-anchor="end" fill="#2a2a2a" stroke="#2a2a2a" stroke-width="0.1">1000</text>
<line x1="42" y1="543.1" x2="46" y2="543.1" stroke="#111" stroke-width="1.1"/>
<text x="37.6" y="545.8" font-size="8.8" text-anchor="end" fill="#2a2a2a" stroke="#2a2a2a" stroke-width="0.1">0</text>
<text x="3.9" y="635.5" font-size="15.5" font-weight="bold" fill="#000" stroke="#000" stroke-width="0.3">E</text>
<rect x="46.6" y="642.9" width="471.6" height="164.4" fill="none" stroke="#111" stroke-width="1.2"/>
<line x1="42.4" y1="653.4" x2="46.2" y2="653.4" stroke="#111" stroke-width="1.1"/>
<text x="38" y="656.4" font-size="8.5" text-anchor="end" fill="#2a2a2a" stroke="#2a2a2a" stroke-width="0.1">T–ALL</text>
<line x1="42.4" y1="671.34" x2="46.2" y2="671.34" stroke="#111" stroke-width="1.1"/>
<text x="38" y="674.34" font-size="8.5" text-anchor="end" fill="#2a2a2a" stroke="#2a2a2a" stroke-width="0.1">Pre-B ALL</text>
<line x1="42.4" y1="689.28" x2="46.2" y2="689.28" stroke="#111" stroke-width="1.1"/>
<text x="38" y="692.28" font-size="8.5" text-anchor="end" fill="#2a2a2a" stroke="#2a2a2a" stroke-width="0.1">MDS</text>
<line x1="42.4" y1="707.22" x2="46.2" y2="707.22" stroke="#111" stroke-width="1.1"/>
<text x="38" y="710.22" font-size="8.5" text-anchor="end" fill="#2a2a2a" stroke="#2a2a2a" stroke-width="0.1">CML</text>
<line x1="42.4" y1="725.16" x2="46.2" y2="725.16" stroke="#111" stroke-width="1.1"/>
<text x="38" y="728.16" font-size="8.5" text-anchor="end" fill="#2a2a2a" stroke="#2a2a2a" stroke-width="0.1">CLL</text>
<line x1="42.4" y1="743.1" x2="46.2" y2="743.1" stroke="#111" stroke-width="1.1"/>
<text x="38" y="746.1" font-size="8.5" text-anchor="end" fill="#2a2a2a" stroke="#2a2a2a" stroke-width="0.1">B-ALL</text>
<line x1="42.4" y1="761.04" x2="46.2" y2="761.04" stroke="#111" stroke-width="1.1"/>
<text x="38" y="764.04" font-size="8.5" text-anchor="end" fill="#2a2a2a" stroke="#2a2a2a" stroke-width="0.1">APL</text>
<line x1="42.4" y1="778.98" x2="46.2" y2="778.98" stroke="#111" stroke-width="1.1"/>
<text x="38" y="781.98" font-size="8.5" text-anchor="end" fill="#2a2a2a" stroke="#2a2a2a" stroke-width="0.1">AML</text>
<line x1="42.4" y1="796.92" x2="46.2" y2="796.92" stroke="#111" stroke-width="1.1"/>
<text x="38" y="799.92" font-size="8.5" text-anchor="end" fill="#2a2a2a" stroke="#2a2a2a" stroke-width="0.1">aCML</text>
<line x1="54.3" y1="808" x2="54.3" y2="812" stroke="#111" stroke-width="1.1"/>
<text transform="translate(57.15,816.4) rotate(-90)" font-size="8.5" text-anchor="end" fill="#2a2a2a" stroke="#2a2a2a" stroke-width="0.1">PABPC1</text>
<line x1="67.74" y1="808" x2="67.74" y2="812" stroke="#111" stroke-width="1.1"/>
<text transform="translate(70.59,816.4) rotate(-90)" font-size="8.5" text-anchor="end" fill="#2a2a2a" stroke="#2a2a2a" stroke-width="0.1">MYB</text>
<line x1="81.18" y1="808" x2="81.18" y2="812" stroke="#111" stroke-width="1.1"/>
<text transform="translate(84.03,816.4) rotate(-90)" font-size="8.5" text-anchor="end" fill="#2a2a2a" stroke="#2a2a2a" stroke-width="0.1">PABPC4</text>
<line x1="94.62" y1="808" x2="94.62" y2="812" stroke="#111" stroke-width="1.1"/>
<text transform="translate(97.47,816.4) rotate(-90)" font-size="8.5" text-anchor="end" fill="#2a2a2a" stroke="#2a2a2a" stroke-width="0.1">GTPBP10</text>
<line x1="108.06" y1="808" x2="108.06" y2="812" stroke="#111" stroke-width="1.1"/>
<text transform="translate(110.91,816.4) rotate(-90)" font-size="8.5" text-anchor="end" fill="#2a2a2a" stroke="#2a2a2a" stroke-width="0.1">WBSCR22</text>
<line x1="121.5" y1="808" x2="121.5" y2="812" stroke="#111" stroke-width="1.1"/>
<text transform="translate(124.35,816.4) rotate(-90)" font-size="8.5" text-anchor="end" fill="#2a2a2a" stroke="#2a2a2a" stroke-width="0.1">MYL6</text>
<line x1="134.94" y1="808" x2="134.94" y2="812" stroke="#111" stroke-width="1.1"/>
<text transform="translate(137.79,816.4) rotate(-90)" font-size="8.5" text-anchor="end" fill="#2a2a2a" stroke="#2a2a2a" stroke-width="0.1">HNRNPH1</text>
<line x1="148.38" y1="808" x2="148.38" y2="812" stroke="#111" stroke-width="1.1"/>
<text transform="translate(151.23,816.4) rotate(-90)" font-size="8.5" text-anchor="end" fill="#2a2a2a" stroke="#2a2a2a" stroke-width="0.1">HMBS</text>
<line x1="161.82" y1="808" x2="161.82" y2="812" stroke="#111" stroke-width="1.1"/>
<text transform="translate(164.67,816.4) rotate(-90)" font-size="8.5" text-anchor="end" fill="#2a2a2a" stroke="#2a2a2a" stroke-width="0.1">CLN6</text>
<line x1="175.26" y1="808" x2="175.26" y2="812" stroke="#111" stroke-width="1.1"/>
<text transform="translate(178.11,816.4) rotate(-90)" font-size="8.5" text-anchor="end" fill="#2a2a2a" stroke="#2a2a2a" stroke-width="0.1">ANAPC5</text>
<line x1="188.7" y1="808" x2="188.7" y2="812" stroke="#111" stroke-width="1.1"/>
<text transform="translate(191.55,816.4) rotate(-90)" font-size="8.5" text-anchor="end" fill="#2a2a2a" stroke="#2a2a2a" stroke-width="0.1">ACSL4</text>
<line x1="202.14" y1="808" x2="202.14" y2="812" stroke="#111" stroke-width="1.1"/>
<text transform="translate(204.99,816.4) rotate(-90)" font-size="8.5" text-anchor="end" fill="#2a2a2a" stroke="#2a2a2a" stroke-width="0.1">ZC3H14</text>
<line x1="215.58" y1="808" x2="215.58" y2="812" stroke="#111" stroke-width="1.1"/>
<text transform="translate(218.43,816.4) rotate(-90)" font-size="8.5" text-anchor="end" fill="#2a2a2a" stroke="#2a2a2a" stroke-width="0.1">TLE3</text>
<line x1="229.02" y1="808" x2="229.02" y2="812" stroke="#111" stroke-width="1.1"/>
<text transform="translate(231.87,816.4) rotate(-90)" font-size="8.5" text-anchor="end" fill="#2a2a2a" stroke="#2a2a2a" stroke-width="0.1">TCF3</text>
<line x1="242.46" y1="808" x2="242.46" y2="812" stroke="#111" stroke-width="1.1"/>
<text transform="translate(245.31,816.4) rotate(-90)" font-size="8.5" text-anchor="end" fill="#2a2a2a" stroke="#2a2a2a" stroke-width="0.1">SUPT20H</text>
<line x1="255.9" y1="808" x2="255.9" y2="812" stroke="#111" stroke-width="1.1"/>
<text transform="translate(258.75,816.4) rotate(-90)" font-size="8.5" text-anchor="end" fill="#2a2a2a" stroke="#2a2a2a" stroke-width="0.1">RAD52</text>
<line x1="269.34" y1="808" x2="269.34" y2="812" stroke="#111" stroke-width="1.1"/>
<text transform="translate(272.19,816.4) rotate(-90)" font-size="8.5" text-anchor="end" fill="#2a2a2a" stroke="#2a2a2a" stroke-width="0.1">NELFCD</text>
<line x1="282.78" y1="808" x2="282.78" y2="812" stroke="#111" stroke-width="1.1"/>
<text transform="translate(285.63,816.4) rotate(-90)" font-size="8.5" text-anchor="end" fill="#2a2a2a" stroke="#2a2a2a" stroke-width="0.1">MED24</text>
<line x1="296.22" y1="808" x2="296.22" y2="812" stroke="#111" stroke-width="1.1"/>
<text transform="translate(299.07,816.4) rotate(-90)" font-size="8.5" text-anchor="end" fill="#2a2a2a" stroke="#2a2a2a" stroke-width="0.1">IDH3B</text>
<line x1="309.66" y1="808" x2="309.66" y2="812" stroke="#111" stroke-width="1.1"/>
<text transform="translate(312.51,816.4) rotate(-90)" font-size="8.5" text-anchor="end" fill="#2a2a2a" stroke="#2a2a2a" stroke-width="0.1">HDAC10</text>
<line x1="323.1" y1="808" x2="323.1" y2="812" stroke="#111" stroke-width="1.1"/>
<text transform="translate(325.95,816.4) rotate(-90)" font-size="8.5" text-anchor="end" fill="#2a2a2a" stroke="#2a2a2a" stroke-width="0.1">GPS1</text>
<line x1="336.54" y1="808" x2="336.54" y2="812" stroke="#111" stroke-width="1.1"/>
<text transform="translate(339.39,816.4) rotate(-90)" font-size="8.5" text-anchor="end" fill="#2a2a2a" stroke="#2a2a2a" stroke-width="0.1">GAS5</text>
<line x1="349.98" y1="808" x2="349.98" y2="812" stroke="#111" stroke-width="1.1"/>
<text transform="translate(352.83,816.4) rotate(-90)" font-size="8.5" text-anchor="end" fill="#2a2a2a" stroke="#2a2a2a" stroke-width="0.1">FIGNL1</text>
<line x1="363.42" y1="808" x2="363.42" y2="812" stroke="#111" stroke-width="1.1"/>
<text transform="translate(366.27,816.4) rotate(-90)" font-size="8.5" text-anchor="end" fill="#2a2a2a" stroke="#2a2a2a" stroke-width="0.1">DNM1L</text>
<line x1="376.86" y1="808" x2="376.86" y2="812" stroke="#111" stroke-width="1.1"/>
<text transform="translate(379.71,816.4) rotate(-90)" font-size="8.5" text-anchor="end" fill="#2a2a2a" stroke="#2a2a2a" stroke-width="0.1">DDX11</text>
<line x1="390.3" y1="808" x2="390.3" y2="812" stroke="#111" stroke-width="1.1"/>
<text transform="translate(393.15,816.4) rotate(-90)" font-size="8.5" text-anchor="end" fill="#2a2a2a" stroke="#2a2a2a" stroke-width="0.1">CDK5RAP3</text>
<line x1="403.74" y1="808" x2="403.74" y2="812" stroke="#111" stroke-width="1.1"/>
<text transform="translate(406.59,816.4) rotate(-90)" font-size="8.5" text-anchor="end" fill="#2a2a2a" stroke="#2a2a2a" stroke-width="0.1">CARF</text>
<line x1="417.18" y1="808" x2="417.18" y2="812" stroke="#111" stroke-width="1.1"/>
<text transform="translate(420.03,816.4) rotate(-90)" font-size="8.5" text-anchor="end" fill="#2a2a2a" stroke="#2a2a2a" stroke-width="0.1">ABCA2</text>
<line x1="430.62" y1="808" x2="430.62" y2="812" stroke="#111" stroke-width="1.1"/>
<text transform="translate(433.47,816.4) rotate(-90)" font-size="8.5" text-anchor="end" fill="#2a2a2a" stroke="#2a2a2a" stroke-width="0.1">SGSM3</text>
<line x1="444.06" y1="808" x2="444.06" y2="812" stroke="#111" stroke-width="1.1"/>
<text transform="translate(446.91,816.4) rotate(-90)" font-size="8.5" text-anchor="end" fill="#2a2a2a" stroke="#2a2a2a" stroke-width="0.1">PACRGL</text>
<line x1="457.5" y1="808" x2="457.5" y2="812" stroke="#111" stroke-width="1.1"/>
<text transform="translate(460.35,816.4) rotate(-90)" font-size="8.5" text-anchor="end" fill="#2a2a2a" stroke="#2a2a2a" stroke-width="0.1">ELMOD3</text>
<line x1="470.94" y1="808" x2="470.94" y2="812" stroke="#111" stroke-width="1.1"/>
<text transform="translate(473.79,816.4) rotate(-90)" font-size="8.5" text-anchor="end" fill="#2a2a2a" stroke="#2a2a2a" stroke-width="0.1">CDC27</text>
<line x1="484.38" y1="808" x2="484.38" y2="812" stroke="#111" stroke-width="1.1"/>
<text transform="translate(487.23,816.4) rotate(-90)" font-size="8.5" text-anchor="end" fill="#2a2a2a" stroke="#2a2a2a" stroke-width="0.1">CCNL1</text>
<line x1="497.82" y1="808" x2="497.82" y2="812" stroke="#111" stroke-width="1.1"/>
<text transform="translate(500.67,816.4) rotate(-90)" font-size="8.5" text-anchor="end" fill="#2a2a2a" stroke="#2a2a2a" stroke-width="0.1">CCM2</text>
<line x1="511.26" y1="808" x2="511.26" y2="812" stroke="#111" stroke-width="1.1"/>
<text transform="translate(514.11,816.4) rotate(-90)" font-size="8.5" text-anchor="end" fill="#2a2a2a" stroke="#2a2a2a" stroke-width="0.1">AKAP8L</text>
<ellipse cx="54.3" cy="653.4" rx="4.05" ry="3.55" fill="#da68a6" stroke="#2a0f22" stroke-width="1.1"/>
<ellipse cx="67.74" cy="653.4" rx="4.6" ry="4.2" fill="#cf5fab" stroke="#2a0f22" stroke-width="1.1"/>
<ellipse cx="81.18" cy="653.4" rx="4.05" ry="3.55" fill="#da68a6" stroke="#2a0f22" stroke-width="1.1"/>
<ellipse cx="94.62" cy="653.4" rx="4.05" ry="3.55" fill="#da68a6" stroke="#2a0f22" stroke-width="1.1"/>
<ellipse cx="108.06" cy="653.4" rx="4.05" ry="3.55" fill="#da68a6" stroke="#2a0f22" stroke-width="1.1"/>
<ellipse cx="121.5" cy="653.4" rx="4.05" ry="3.55" fill="#da68a6" stroke="#2a0f22" stroke-width="1.1"/>
<ellipse cx="161.82" cy="653.4" rx="4.05" ry="3.55" fill="#da68a6" stroke="#2a0f22" stroke-width="1.1"/>
<ellipse cx="175.26" cy="653.4" rx="4.05" ry="3.55" fill="#da68a6" stroke="#2a0f22" stroke-width="1.1"/>
<ellipse cx="188.7" cy="653.4" rx="4.05" ry="3.55" fill="#da68a6" stroke="#2a0f22" stroke-width="1.1"/>
<ellipse cx="202.14" cy="653.4" rx="4.05" ry="3.55" fill="#da68a6" stroke="#2a0f22" stroke-width="1.1"/>
<ellipse cx="229.02" cy="653.4" rx="4.05" ry="3.55" fill="#da68a6" stroke="#2a0f22" stroke-width="1.1"/>
<ellipse cx="242.46" cy="653.4" rx="4.05" ry="3.55" fill="#da68a6" stroke="#2a0f22" stroke-width="1.1"/>
<ellipse cx="255.9" cy="653.4" rx="4.05" ry="3.55" fill="#da68a6" stroke="#2a0f22" stroke-width="1.1"/>
<ellipse cx="269.34" cy="653.4" rx="4.05" ry="3.55" fill="#da68a6" stroke="#2a0f22" stroke-width="1.1"/>
<ellipse cx="282.78" cy="653.4" rx="4.05" ry="3.55" fill="#da68a6" stroke="#2a0f22" stroke-width="1.1"/>
<ellipse cx="296.22" cy="653.4" rx="4.05" ry="3.55" fill="#da68a6" stroke="#2a0f22" stroke-width="1.1"/>
<ellipse cx="309.66" cy="653.4" rx="4.05" ry="3.55" fill="#da68a6" stroke="#2a0f22" stroke-width="1.1"/>
<ellipse cx="349.98" cy="653.4" rx="4.05" ry="3.55" fill="#da68a6" stroke="#2a0f22" stroke-width="1.1"/>
<ellipse cx="363.42" cy="653.4" rx="4.05" ry="3.55" fill="#da68a6" stroke="#2a0f22" stroke-width="1.1"/>
<ellipse cx="376.86" cy="653.4" rx="4.6" ry="4.2" fill="#cf5fab" stroke="#2a0f22" stroke-width="1.1"/>
<ellipse cx="390.3" cy="653.4" rx="4.05" ry="3.55" fill="#da68a6" stroke="#2a0f22" stroke-width="1.1"/>
<ellipse cx="403.74" cy="653.4" rx="4.05" ry="3.55" fill="#da68a6" stroke="#2a0f22" stroke-width="1.1"/>
<ellipse cx="417.18" cy="653.4" rx="4.05" ry="3.55" fill="#da68a6" stroke="#2a0f22" stroke-width="1.1"/>
<ellipse cx="430.62" cy="653.4" rx="4.05" ry="3.55" fill="#da68a6" stroke="#2a0f22" stroke-width="1.1"/>
<ellipse cx="444.06" cy="653.4" rx="4.05" ry="3.55" fill="#da68a6" stroke="#2a0f22" stroke-width="1.1"/>
<ellipse cx="457.5" cy="653.4" rx="4.05" ry="3.55" fill="#da68a6" stroke="#2a0f22" stroke-width="1.1"/>
<ellipse cx="470.94" cy="653.4" rx="4.05" ry="3.55" fill="#da68a6" stroke="#2a0f22" stroke-width="1.1"/>
<ellipse cx="54.3" cy="671.34" rx="4.05" ry="3.55" fill="#da68a6" stroke="#2a0f22" stroke-width="1.1"/>
<ellipse cx="67.74" cy="671.34" rx="4.6" ry="4.2" fill="#cf5fab" stroke="#2a0f22" stroke-width="1.1"/>
<ellipse cx="81.18" cy="671.34" rx="4.05" ry="3.55" fill="#da68a6" stroke="#2a0f22" stroke-width="1.1"/>
<ellipse cx="94.62" cy="671.34" rx="4.05" ry="3.55" fill="#da68a6" stroke="#2a0f22" stroke-width="1.1"/>
<ellipse cx="121.5" cy="671.34" rx="4.05" ry="3.55" fill="#da68a6" stroke="#2a0f22" stroke-width="1.1"/>
<ellipse cx="134.94" cy="671.34" rx="4.05" ry="3.55" fill="#da68a6" stroke="#2a0f22" stroke-width="1.1"/>
<ellipse cx="148.38" cy="671.34" rx="4.05" ry="3.55" fill="#da68a6" stroke="#2a0f22" stroke-width="1.1"/>
<ellipse cx="175.26" cy="671.34" rx="4.05" ry="3.55" fill="#da68a6" stroke="#2a0f22" stroke-width="1.1"/>
<ellipse cx="202.14" cy="671.34" rx="4.05" ry="3.55" fill="#da68a6" stroke="#2a0f22" stroke-width="1.1"/>
<ellipse cx="215.58" cy="671.34" rx="4.05" ry="3.55" fill="#da68a6" stroke="#2a0f22" stroke-width="1.1"/>
<ellipse cx="229.02" cy="671.34" rx="4.05" ry="3.55" fill="#da68a6" stroke="#2a0f22" stroke-width="1.1"/>
<ellipse cx="242.46" cy="671.34" rx="4.05" ry="3.55" fill="#da68a6" stroke="#2a0f22" stroke-width="1.1"/>
<ellipse cx="269.34" cy="671.34" rx="4.05" ry="3.55" fill="#da68a6" stroke="#2a0f22" stroke-width="1.1"/>
<ellipse cx="282.78" cy="671.34" rx="4.05" ry="3.55" fill="#da68a6" stroke="#2a0f22" stroke-width="1.1"/>
<ellipse cx="296.22" cy="671.34" rx="4.05" ry="3.55" fill="#da68a6" stroke="#2a0f22" stroke-width="1.1"/>
<ellipse cx="309.66" cy="671.34" rx="4.05" ry="3.55" fill="#da68a6" stroke="#2a0f22" stroke-width="1.1"/>
<ellipse cx="336.54" cy="671.34" rx="4.05" ry="3.55" fill="#da68a6" stroke="#2a0f22" stroke-width="1.1"/>
<ellipse cx="363.42" cy="671.34" rx="4.05" ry="3.55" fill="#da68a6" stroke="#2a0f22" stroke-width="1.1"/>
<ellipse cx="376.86" cy="671.34" rx="4.05" ry="3.55" fill="#da68a6" stroke="#2a0f22" stroke-width="1.1"/>
<ellipse cx="430.62" cy="671.34" rx="4.05" ry="3.55" fill="#da68a6" stroke="#2a0f22" stroke-width="1.1"/>
<ellipse cx="470.94" cy="671.34" rx="4.05" ry="3.55" fill="#da68a6" stroke="#2a0f22" stroke-width="1.1"/>
<ellipse cx="484.38" cy="671.34" rx="4.05" ry="3.55" fill="#da68a6" stroke="#2a0f22" stroke-width="1.1"/>
<ellipse cx="54.3" cy="689.28" rx="4.05" ry="3.55" fill="#da68a6" stroke="#2a0f22" stroke-width="1.1"/>
<ellipse cx="67.74" cy="689.28" rx="4.6" ry="4.2" fill="#cf5fab" stroke="#2a0f22" stroke-width="1.1"/>
<ellipse cx="81.18" cy="689.28" rx="4.05" ry="3.55" fill="#da68a6" stroke="#2a0f22" stroke-width="1.1"/>
<ellipse cx="94.62" cy="689.28" rx="4.05" ry="3.55" fill="#da68a6" stroke="#2a0f22" stroke-width="1.1"/>
<ellipse cx="134.94" cy="689.28" rx="3.5" ry="3.1" fill="#dc6aa6" stroke="#2a0f22" stroke-width="1.1"/>
<ellipse cx="148.38" cy="689.28" rx="4.05" ry="3.55" fill="#da68a6" stroke="#2a0f22" stroke-width="1.1"/>
<ellipse cx="161.82" cy="689.28" rx="4.05" ry="3.55" fill="#da68a6" stroke="#2a0f22" stroke-width="1.1"/>
<ellipse cx="175.26" cy="689.28" rx="4.05" ry="3.55" fill="#da68a6" stroke="#2a0f22" stroke-width="1.1"/>
<ellipse cx="202.14" cy="689.28" rx="4.5" ry="4" fill="#d060aa" stroke="#2a0f22" stroke-width="1.1"/>
<ellipse cx="215.58" cy="689.28" rx="4.05" ry="3.55" fill="#da68a6" stroke="#2a0f22" stroke-width="1.1"/>
<ellipse cx="229.02" cy="689.28" rx="3.5" ry="3.1" fill="#dc6aa6" stroke="#2a0f22" stroke-width="1.1"/>
<ellipse cx="242.46" cy="689.28" rx="4.05" ry="3.55" fill="#da68a6" stroke="#2a0f22" stroke-width="1.1"/>
<ellipse cx="269.34" cy="689.28" rx="4.05" ry="3.55" fill="#da68a6" stroke="#2a0f22" stroke-width="1.1"/>
<ellipse cx="296.22" cy="689.28" rx="4.05" ry="3.55" fill="#da68a6" stroke="#2a0f22" stroke-width="1.1"/>
<ellipse cx="323.1" cy="689.28" rx="4.05" ry="3.55" fill="#da68a6" stroke="#2a0f22" stroke-width="1.1"/>
<ellipse cx="336.54" cy="689.28" rx="3.5" ry="3.1" fill="#dc6aa6" stroke="#2a0f22" stroke-width="1.1"/>
<ellipse cx="363.42" cy="689.28" rx="3.5" ry="3.1" fill="#dc6aa6" stroke="#2a0f22" stroke-width="1.1"/>
<ellipse cx="470.94" cy="689.28" rx="3.5" ry="3.1" fill="#dc6aa6" stroke="#2a0f22" stroke-width="1.1"/>
<ellipse cx="484.38" cy="689.28" rx="4.05" ry="3.55" fill="#da68a6" stroke="#2a0f22" stroke-width="1.1"/>
<ellipse cx="54.3" cy="707.22" rx="4.05" ry="3.55" fill="#da68a6" stroke="#2a0f22" stroke-width="1.1"/>
<ellipse cx="67.74" cy="707.22" rx="4.6" ry="4.2" fill="#cf5fab" stroke="#2a0f22" stroke-width="1.1"/>
<ellipse cx="81.18" cy="707.22" rx="4.05" ry="3.55" fill="#da68a6" stroke="#2a0f22" stroke-width="1.1"/>
<ellipse cx="94.62" cy="707.22" rx="4.05" ry="3.55" fill="#da68a6" stroke="#2a0f22" stroke-width="1.1"/>
<ellipse cx="134.94" cy="707.22" rx="4.05" ry="3.55" fill="#da68a6" stroke="#2a0f22" stroke-width="1.1"/>
<ellipse cx="161.82" cy="707.22" rx="4.05" ry="3.55" fill="#da68a6" stroke="#2a0f22" stroke-width="1.1"/>
<ellipse cx="175.26" cy="707.22" rx="3.5" ry="3.1" fill="#dc6aa6" stroke="#2a0f22" stroke-width="1.1"/>
<ellipse cx="188.7" cy="707.22" rx="4.05" ry="3.55" fill="#da68a6" stroke="#2a0f22" stroke-width="1.1"/>
<ellipse cx="202.14" cy="707.22" rx="4.05" ry="3.55" fill="#da68a6" stroke="#2a0f22" stroke-width="1.1"/>
<ellipse cx="215.58" cy="707.22" rx="4.05" ry="3.55" fill="#da68a6" stroke="#2a0f22" stroke-width="1.1"/>
<ellipse cx="242.46" cy="707.22" rx="4.05" ry="3.55" fill="#da68a6" stroke="#2a0f22" stroke-width="1.1"/>
<ellipse cx="269.34" cy="707.22" rx="3.5" ry="3.1" fill="#dc6aa6" stroke="#2a0f22" stroke-width="1.1"/>
<ellipse cx="282.78" cy="707.22" rx="3.5" ry="3.1" fill="#dc6aa6" stroke="#2a0f22" stroke-width="1.1"/>
<ellipse cx="296.22" cy="707.22" rx="3.5" ry="3.1" fill="#dc6aa6" stroke="#2a0f22" stroke-width="1.1"/>
<ellipse cx="323.1" cy="707.22" rx="4.05" ry="3.55" fill="#da68a6" stroke="#2a0f22" stroke-width="1.1"/>
<ellipse cx="336.54" cy="707.22" rx="4.05" ry="3.55" fill="#da68a6" stroke="#2a0f22" stroke-width="1.1"/>
<ellipse cx="349.98" cy="707.22" rx="4.5" ry="4" fill="#d060aa" stroke="#2a0f22" stroke-width="1.1"/>
<ellipse cx="363.42" cy="707.22" rx="3.5" ry="3.1" fill="#dc6aa6" stroke="#2a0f22" stroke-width="1.1"/>
<ellipse cx="376.86" cy="707.22" rx="3.5" ry="3.1" fill="#dc6aa6" stroke="#2a0f22" stroke-width="1.1"/>
<ellipse cx="470.94" cy="707.22" rx="4.05" ry="3.55" fill="#da68a6" stroke="#2a0f22" stroke-width="1.1"/>
<ellipse cx="484.38" cy="707.22" rx="4.05" ry="3.55" fill="#da68a6" stroke="#2a0f22" stroke-width="1.1"/>
<ellipse cx="54.3" cy="725.16" rx="4.05" ry="3.55" fill="#da68a6" stroke="#2a0f22" stroke-width="1.1"/>
<ellipse cx="81.18" cy="725.16" rx="4.05" ry="3.55" fill="#da68a6" stroke="#2a0f22" stroke-width="1.1"/>
<ellipse cx="94.62" cy="725.16" rx="4.05" ry="3.55" fill="#da68a6" stroke="#2a0f22" stroke-width="1.1"/>
<ellipse cx="108.06" cy="725.16" rx="4.05" ry="3.55" fill="#da68a6" stroke="#2a0f22" stroke-width="1.1"/>
<ellipse cx="121.5" cy="725.16" rx="4.05" ry="3.55" fill="#da68a6" stroke="#2a0f22" stroke-width="1.1"/>
<ellipse cx="134.94" cy="725.16" rx="4.05" ry="3.55" fill="#da68a6" stroke="#2a0f22" stroke-width="1.1"/>
<ellipse cx="161.82" cy="725.16" rx="4.05" ry="3.55" fill="#da68a6" stroke="#2a0f22" stroke-width="1.1"/>
<ellipse cx="175.26" cy="725.16" rx="4.05" ry="3.55" fill="#da68a6" stroke="#2a0f22" stroke-width="1.1"/>
<ellipse cx="188.7" cy="725.16" rx="4.05" ry="3.55" fill="#da68a6" stroke="#2a0f22" stroke-width="1.1"/>
<ellipse cx="202.14" cy="725.16" rx="4.05" ry="3.55" fill="#da68a6" stroke="#2a0f22" stroke-width="1.1"/>
<ellipse cx="215.58" cy="725.16" rx="4.05" ry="3.55" fill="#da68a6" stroke="#2a0f22" stroke-width="1.1"/>
<ellipse cx="229.02" cy="725.16" rx="4.05" ry="3.55" fill="#da68a6" stroke="#2a0f22" stroke-width="1.1"/>
<ellipse cx="282.78" cy="725.16" rx="4.05" ry="3.55" fill="#da68a6" stroke="#2a0f22" stroke-width="1.1"/>
<ellipse cx="309.66" cy="725.16" rx="4.6" ry="4.2" fill="#c55aa8" stroke="#2a0f22" stroke-width="1.1"/>
<ellipse cx="363.42" cy="725.16" rx="4.05" ry="3.55" fill="#da68a6" stroke="#2a0f22" stroke-width="1.1"/>
<ellipse cx="376.86" cy="725.16" rx="4.05" ry="3.55" fill="#da68a6" stroke="#2a0f22" stroke-width="1.1"/>
<ellipse cx="390.3" cy="725.16" rx="4.05" ry="3.55" fill="#da68a6" stroke="#2a0f22" stroke-width="1.1"/>
<ellipse cx="403.74" cy="725.16" rx="4.05" ry="3.55" fill="#da68a6" stroke="#2a0f22" stroke-width="1.1"/>
<ellipse cx="430.62" cy="725.16" rx="4.05" ry="3.55" fill="#da68a6" stroke="#2a0f22" stroke-width="1.1"/>
<ellipse cx="457.5" cy="725.16" rx="4.05" ry="3.55" fill="#da68a6" stroke="#2a0f22" stroke-width="1.1"/>
<ellipse cx="484.38" cy="725.16" rx="4.05" ry="3.55" fill="#da68a6" stroke="#2a0f22" stroke-width="1.1"/>
<ellipse cx="497.82" cy="725.16" rx="4.05" ry="3.55" fill="#da68a6" stroke="#2a0f22" stroke-width="1.1"/>
<ellipse cx="511.26" cy="725.16" rx="4.05" ry="3.55" fill="#da68a6" stroke="#2a0f22" stroke-width="1.1"/>
<ellipse cx="54.3" cy="743.1" rx="4.05" ry="3.55" fill="#da68a6" stroke="#2a0f22" stroke-width="1.1"/>
<ellipse cx="67.74" cy="743.1" rx="4.6" ry="4.2" fill="#c55aa8" stroke="#2a0f22" stroke-width="1.1"/>
<ellipse cx="81.18" cy="743.1" rx="4.05" ry="3.55" fill="#da68a6" stroke="#2a0f22" stroke-width="1.1"/>
<ellipse cx="94.62" cy="743.1" rx="4.05" ry="3.55" fill="#da68a6" stroke="#2a0f22" stroke-width="1.1"/>
<ellipse cx="108.06" cy="743.1" rx="4.05" ry="3.55" fill="#da68a6" stroke="#2a0f22" stroke-width="1.1"/>
<ellipse cx="148.38" cy="743.1" rx="4.05" ry="3.55" fill="#da68a6" stroke="#2a0f22" stroke-width="1.1"/>
<ellipse cx="161.82" cy="743.1" rx="4.05" ry="3.55" fill="#da68a6" stroke="#2a0f22" stroke-width="1.1"/>
<ellipse cx="255.9" cy="743.1" rx="4.05" ry="3.55" fill="#da68a6" stroke="#2a0f22" stroke-width="1.1"/>
<ellipse cx="323.1" cy="743.1" rx="4.05" ry="3.55" fill="#da68a6" stroke="#2a0f22" stroke-width="1.1"/>
<ellipse cx="349.98" cy="743.1" rx="4.05" ry="3.55" fill="#da68a6" stroke="#2a0f22" stroke-width="1.1"/>
<ellipse cx="390.3" cy="743.1" rx="4.05" ry="3.55" fill="#da68a6" stroke="#2a0f22" stroke-width="1.1"/>
<ellipse cx="403.74" cy="743.1" rx="4.05" ry="3.55" fill="#da68a6" stroke="#2a0f22" stroke-width="1.1"/>
<ellipse cx="417.18" cy="743.1" rx="4.05" ry="3.55" fill="#da68a6" stroke="#2a0f22" stroke-width="1.1"/>
<ellipse cx="444.06" cy="743.1" rx="4.05" ry="3.55" fill="#da68a6" stroke="#2a0f22" stroke-width="1.1"/>
<ellipse cx="457.5" cy="743.1" rx="4.05" ry="3.55" fill="#da68a6" stroke="#2a0f22" stroke-width="1.1"/>
<ellipse cx="497.82" cy="743.1" rx="4.05" ry="3.55" fill="#da68a6" stroke="#2a0f22" stroke-width="1.1"/>
<ellipse cx="511.26" cy="743.1" rx="4.9" ry="4.5" fill="#b452a8" stroke="#2a0f22" stroke-width="1.1"/>
<ellipse cx="54.3" cy="761.04" rx="4.05" ry="3.55" fill="#da68a6" stroke="#2a0f22" stroke-width="1.1"/>
<ellipse cx="67.74" cy="761.04" rx="4.6" ry="4.2" fill="#c55aa8" stroke="#2a0f22" stroke-width="1.1"/>
<ellipse cx="108.06" cy="761.04" rx="4.05" ry="3.55" fill="#da68a6" stroke="#2a0f22" stroke-width="1.1"/>
<ellipse cx="121.5" cy="761.04" rx="4.05" ry="3.55" fill="#da68a6" stroke="#2a0f22" stroke-width="1.1"/>
<ellipse cx="148.38" cy="761.04" rx="4.05" ry="3.55" fill="#da68a6" stroke="#2a0f22" stroke-width="1.1"/>
<ellipse cx="188.7" cy="761.04" rx="4.5" ry="4" fill="#d060aa" stroke="#2a0f22" stroke-width="1.1"/>
<ellipse cx="229.02" cy="761.04" rx="4.05" ry="3.55" fill="#da68a6" stroke="#2a0f22" stroke-width="1.1"/>
<ellipse cx="255.9" cy="761.04" rx="4.05" ry="3.55" fill="#da68a6" stroke="#2a0f22" stroke-width="1.1"/>
<ellipse cx="323.1" cy="761.04" rx="4.05" ry="3.55" fill="#da68a6" stroke="#2a0f22" stroke-width="1.1"/>
<ellipse cx="336.54" cy="761.04" rx="4.05" ry="3.55" fill="#da68a6" stroke="#2a0f22" stroke-width="1.1"/>
<ellipse cx="349.98" cy="761.04" rx="4.05" ry="3.55" fill="#da68a6" stroke="#2a0f22" stroke-width="1.1"/>
<ellipse cx="376.86" cy="761.04" rx="4.05" ry="3.55" fill="#da68a6" stroke="#2a0f22" stroke-width="1.1"/>
<ellipse cx="390.3" cy="761.04" rx="4.05" ry="3.55" fill="#da68a6" stroke="#2a0f22" stroke-width="1.1"/>
<ellipse cx="403.74" cy="761.04" rx="4.5" ry="4" fill="#d060aa" stroke="#2a0f22" stroke-width="1.1"/>
<ellipse cx="417.18" cy="761.04" rx="4.05" ry="3.55" fill="#da68a6" stroke="#2a0f22" stroke-width="1.1"/>
<ellipse cx="444.06" cy="761.04" rx="5.5" ry="5.1" fill="#8c2e9c" stroke="#2a0f22" stroke-width="1.1"/>
<ellipse cx="497.82" cy="761.04" rx="4.5" ry="4" fill="#d060aa" stroke="#2a0f22" stroke-width="1.1"/>
<ellipse cx="54.3" cy="778.98" rx="4.05" ry="3.55" fill="#dc5ea2" stroke="#2a0f22" stroke-width="1.1"/>
<ellipse cx="67.74" cy="778.98" rx="4.6" ry="4.2" fill="#c55aa8" stroke="#2a0f22" stroke-width="1.1"/>
<ellipse cx="108.06" cy="778.98" rx="4.05" ry="3.55" fill="#da68a6" stroke="#2a0f22" stroke-width="1.1"/>
<ellipse cx="121.5" cy="778.98" rx="4.05" ry="3.55" fill="#da68a6" stroke="#2a0f22" stroke-width="1.1"/>
<ellipse cx="134.94" cy="778.98" rx="4.05" ry="3.55" fill="#da68a6" stroke="#2a0f22" stroke-width="1.1"/>
<ellipse cx="148.38" cy="778.98" rx="4.05" ry="3.55" fill="#da68a6" stroke="#2a0f22" stroke-width="1.1"/>
<ellipse cx="188.7" cy="778.98" rx="4.5" ry="4" fill="#d060aa" stroke="#2a0f22" stroke-width="1.1"/>
<ellipse cx="255.9" cy="778.98" rx="4.05" ry="3.55" fill="#da68a6" stroke="#2a0f22" stroke-width="1.1"/>
<ellipse cx="309.66" cy="778.98" rx="4.05" ry="3.55" fill="#da68a6" stroke="#2a0f22" stroke-width="1.1"/>
<ellipse cx="323.1" cy="778.98" rx="4.6" ry="4.2" fill="#c55aa8" stroke="#2a0f22" stroke-width="1.1"/>
<ellipse cx="336.54" cy="778.98" rx="4.05" ry="3.55" fill="#da68a6" stroke="#2a0f22" stroke-width="1.1"/>
<ellipse cx="349.98" cy="778.98" rx="4.05" ry="3.55" fill="#da68a6" stroke="#2a0f22" stroke-width="1.1"/>
<ellipse cx="403.74" cy="778.98" rx="4.05" ry="3.55" fill="#da68a6" stroke="#2a0f22" stroke-width="1.1"/>
<ellipse cx="417.18" cy="778.98" rx="4.05" ry="3.55" fill="#da68a6" stroke="#2a0f22" stroke-width="1.1"/>
<ellipse cx="444.06" cy="778.98" rx="5.5" ry="5.1" fill="#8c2e9c" stroke="#2a0f22" stroke-width="1.1"/>
<ellipse cx="511.26" cy="778.98" rx="4.05" ry="3.55" fill="#da68a6" stroke="#2a0f22" stroke-width="1.1"/>
<ellipse cx="54.3" cy="796.92" rx="4.05" ry="3.55" fill="#da68a6" stroke="#2a0f22" stroke-width="1.1"/>
<ellipse cx="67.74" cy="796.92" rx="4.05" ry="3.55" fill="#da68a6" stroke="#2a0f22" stroke-width="1.1"/>
<ellipse cx="81.18" cy="796.92" rx="4.05" ry="3.55" fill="#da68a6" stroke="#2a0f22" stroke-width="1.1"/>
<ellipse cx="94.62" cy="796.92" rx="4.05" ry="3.55" fill="#da68a6" stroke="#2a0f22" stroke-width="1.1"/>
<ellipse cx="108.06" cy="796.92" rx="4.05" ry="3.55" fill="#da68a6" stroke="#2a0f22" stroke-width="1.1"/>
<ellipse cx="121.5" cy="796.92" rx="4.05" ry="3.55" fill="#da68a6" stroke="#2a0f22" stroke-width="1.1"/>
<ellipse cx="134.94" cy="796.92" rx="4.05" ry="3.55" fill="#da68a6" stroke="#2a0f22" stroke-width="1.1"/>
<ellipse cx="148.38" cy="796.92" rx="4.05" ry="3.55" fill="#da68a6" stroke="#2a0f22" stroke-width="1.1"/>
<ellipse cx="161.82" cy="796.92" rx="4.05" ry="3.55" fill="#da68a6" stroke="#2a0f22" stroke-width="1.1"/>
<ellipse cx="175.26" cy="796.92" rx="4.05" ry="3.55" fill="#da68a6" stroke="#2a0f22" stroke-width="1.1"/>
<ellipse cx="188.7" cy="796.92" rx="4.05" ry="3.55" fill="#da68a6" stroke="#2a0f22" stroke-width="1.1"/>
<ellipse cx="215.58" cy="796.92" rx="4.05" ry="3.55" fill="#da68a6" stroke="#2a0f22" stroke-width="1.1"/>
<ellipse cx="242.46" cy="796.92" rx="4.05" ry="3.55" fill="#da68a6" stroke="#2a0f22" stroke-width="1.1"/>
<ellipse cx="255.9" cy="796.92" rx="4.05" ry="3.55" fill="#da68a6" stroke="#2a0f22" stroke-width="1.1"/>
<ellipse cx="269.34" cy="796.92" rx="4.05" ry="3.55" fill="#da68a6" stroke="#2a0f22" stroke-width="1.1"/>
<ellipse cx="282.78" cy="796.92" rx="4.05" ry="3.55" fill="#da68a6" stroke="#2a0f22" stroke-width="1.1"/>
<ellipse cx="296.22" cy="796.92" rx="4.05" ry="3.55" fill="#da68a6" stroke="#2a0f22" stroke-width="1.1"/>
<ellipse cx="309.66" cy="796.92" rx="4.05" ry="3.55" fill="#da68a6" stroke="#2a0f22" stroke-width="1.1"/>
<ellipse cx="390.3" cy="796.92" rx="4.05" ry="3.55" fill="#da68a6" stroke="#2a0f22" stroke-width="1.1"/>
<ellipse cx="417.18" cy="796.92" rx="4.05" ry="3.55" fill="#da68a6" stroke="#2a0f22" stroke-width="1.1"/>
<ellipse cx="430.62" cy="796.92" rx="4.05" ry="3.55" fill="#da68a6" stroke="#2a0f22" stroke-width="1.1"/>
<ellipse cx="457.5" cy="796.92" rx="4.05" ry="3.55" fill="#da68a6" stroke="#2a0f22" stroke-width="1.1"/>
<ellipse cx="497.82" cy="796.92" rx="4.05" ry="3.55" fill="#da68a6" stroke="#2a0f22" stroke-width="1.1"/>
<ellipse cx="511.26" cy="796.92" rx="4.05" ry="3.55" fill="#da68a6" stroke="#2a0f22" stroke-width="1.1"/>
<text x="202" y="880.9" font-size="8.25" text-anchor="end" fill="#2a2a2a" stroke="#2a2a2a" stroke-width="0.1">The number of AS</text>
<defs><linearGradient id="gr" x1="0" x2="1" y1="0" y2="0"><stop offset="0" stop-color="#d860a2"/><stop offset="0.5" stop-color="#ad4898"/><stop offset="1" stop-color="#842c8a"/></linearGradient></defs>
<rect x="205.4" y="870.7" width="83.2" height="15.3" fill="url(#gr)"/>
<line x1="225.6" y1="870.7" x2="225.6" y2="873.8" stroke="#fff" stroke-width="0.9"/>
<line x1="225.6" y1="882.9" x2="225.6" y2="886.0" stroke="#fff" stroke-width="0.9"/>
<line x1="258.1" y1="870.7" x2="258.1" y2="873.8" stroke="#fff" stroke-width="0.9"/>
<line x1="258.1" y1="882.9" x2="258.1" y2="886.0" stroke="#fff" stroke-width="0.9"/>
<text x="221.2" y="894.6" font-size="8" text-anchor="middle" fill="#2a2a2a" stroke="#2a2a2a" stroke-width="0.1">10</text>
<text x="254.2" y="894.6" font-size="8" text-anchor="middle" fill="#2a2a2a" stroke="#2a2a2a" stroke-width="0.1">20</text>
<rect x="292.5" y="871.1" width="16.4" height="14.3" fill="#fff" stroke="#222" stroke-width="1.2"/>
<ellipse cx="300.4" cy="877.9" rx="3.5" ry="3" fill="#111"/>
<text x="313.2" y="880.9" font-size="8" text-anchor="start" fill="#2a2a2a" stroke="#2a2a2a" stroke-width="0.1">5</text>
<rect x="325.1" y="871.1" width="16.4" height="14.3" fill="#fff" stroke="#222" stroke-width="1.2"/>
<ellipse cx="333.2" cy="877.9" rx="4.5" ry="3.8" fill="#111"/>
<text x="346.5" y="880.9" font-size="8" text-anchor="start" fill="#2a2a2a" stroke="#2a2a2a" stroke-width="0.1">10</text>
<rect x="362" y="871.1" width="16.4" height="14.3" fill="#fff" stroke="#222" stroke-width="1.2"/>
<ellipse cx="370.2" cy="877.9" rx="5.1" ry="4.5" fill="#111"/>
<text x="383.2" y="880.9" font-size="8" text-anchor="start" fill="#2a2a2a" stroke="#2a2a2a" stroke-width="0.1">15</text>
<rect x="398.5" y="871.1" width="16.4" height="14.3" fill="#fff" stroke="#222" stroke-width="1.2"/>
<ellipse cx="406.9" cy="877.9" rx="5.5" ry="4.9" fill="#111"/>
<text x="419.9" y="880.9" font-size="8" text-anchor="start" fill="#2a2a2a" stroke="#2a2a2a" stroke-width="0.1">20</text>
</svg>
</body></html>
